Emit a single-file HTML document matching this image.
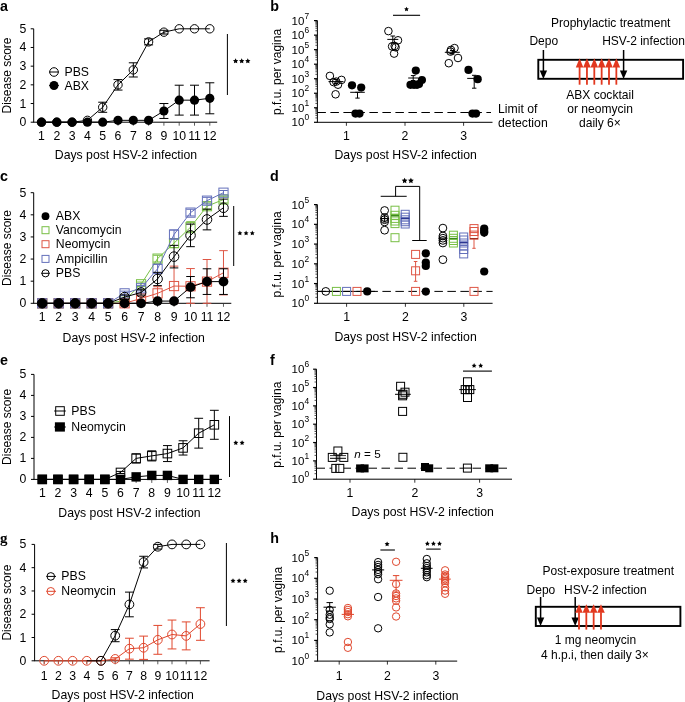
<!DOCTYPE html>
<html><head><meta charset="utf-8"><style>
html,body{margin:0;padding:0;background:#fff;overflow:hidden;}
svg{display:block;will-change:transform;}
text{font-family:"Liberation Sans", sans-serif;}
</style></head><body>
<svg width="685" height="702" viewBox="0 0 685 702">
<rect width="685" height="702" fill="#fff"/>
<text x="0.00" y="10.70" font-size="14.3" text-anchor="start" font-weight="bold" fill="#000" >a</text>
<line x1="33.70" y1="28.80" x2="33.70" y2="122.20" stroke="#000" stroke-width="1" />
<line x1="33.20" y1="122.20" x2="217.20" y2="122.20" stroke="#000" stroke-width="1" />
<line x1="30.70" y1="122.20" x2="33.70" y2="122.20" stroke="#000" stroke-width="1" />
<text x="26.30" y="126.20" font-size="12.25" text-anchor="end" font-weight="normal" fill="#000" >0</text>
<line x1="30.70" y1="103.52" x2="33.70" y2="103.52" stroke="#000" stroke-width="1" />
<text x="26.30" y="107.52" font-size="12.25" text-anchor="end" font-weight="normal" fill="#000" >1</text>
<line x1="30.70" y1="84.84" x2="33.70" y2="84.84" stroke="#000" stroke-width="1" />
<text x="26.30" y="88.84" font-size="12.25" text-anchor="end" font-weight="normal" fill="#000" >2</text>
<line x1="30.70" y1="66.16" x2="33.70" y2="66.16" stroke="#000" stroke-width="1" />
<text x="26.30" y="70.16" font-size="12.25" text-anchor="end" font-weight="normal" fill="#000" >3</text>
<line x1="30.70" y1="47.48" x2="33.70" y2="47.48" stroke="#000" stroke-width="1" />
<text x="26.30" y="51.48" font-size="12.25" text-anchor="end" font-weight="normal" fill="#000" >4</text>
<line x1="30.70" y1="28.80" x2="33.70" y2="28.80" stroke="#000" stroke-width="1" />
<text x="26.30" y="32.80" font-size="12.25" text-anchor="end" font-weight="normal" fill="#000" >5</text>
<line x1="41.50" y1="122.20" x2="41.50" y2="125.70" stroke="#333" stroke-width="0.8" />
<text x="41.50" y="140.20" font-size="12.25" text-anchor="middle" font-weight="normal" fill="#000" >1</text>
<line x1="56.80" y1="122.20" x2="56.80" y2="125.70" stroke="#333" stroke-width="0.8" />
<text x="56.80" y="140.20" font-size="12.25" text-anchor="middle" font-weight="normal" fill="#000" >2</text>
<line x1="72.10" y1="122.20" x2="72.10" y2="125.70" stroke="#333" stroke-width="0.8" />
<text x="72.10" y="140.20" font-size="12.25" text-anchor="middle" font-weight="normal" fill="#000" >3</text>
<line x1="87.40" y1="122.20" x2="87.40" y2="125.70" stroke="#333" stroke-width="0.8" />
<text x="87.40" y="140.20" font-size="12.25" text-anchor="middle" font-weight="normal" fill="#000" >4</text>
<line x1="102.70" y1="122.20" x2="102.70" y2="125.70" stroke="#333" stroke-width="0.8" />
<text x="102.70" y="140.20" font-size="12.25" text-anchor="middle" font-weight="normal" fill="#000" >5</text>
<line x1="118.00" y1="122.20" x2="118.00" y2="125.70" stroke="#333" stroke-width="0.8" />
<text x="118.00" y="140.20" font-size="12.25" text-anchor="middle" font-weight="normal" fill="#000" >6</text>
<line x1="133.30" y1="122.20" x2="133.30" y2="125.70" stroke="#333" stroke-width="0.8" />
<text x="133.30" y="140.20" font-size="12.25" text-anchor="middle" font-weight="normal" fill="#000" >7</text>
<line x1="148.60" y1="122.20" x2="148.60" y2="125.70" stroke="#333" stroke-width="0.8" />
<text x="148.60" y="140.20" font-size="12.25" text-anchor="middle" font-weight="normal" fill="#000" >8</text>
<line x1="163.90" y1="122.20" x2="163.90" y2="125.70" stroke="#333" stroke-width="0.8" />
<text x="163.90" y="140.20" font-size="12.25" text-anchor="middle" font-weight="normal" fill="#000" >9</text>
<line x1="179.20" y1="122.20" x2="179.20" y2="125.70" stroke="#333" stroke-width="0.8" />
<text x="179.20" y="140.20" font-size="12.25" text-anchor="middle" font-weight="normal" fill="#000" >10</text>
<line x1="194.50" y1="122.20" x2="194.50" y2="125.70" stroke="#333" stroke-width="0.8" />
<text x="194.50" y="140.20" font-size="12.25" text-anchor="middle" font-weight="normal" fill="#000" >11</text>
<line x1="209.80" y1="122.20" x2="209.80" y2="125.70" stroke="#333" stroke-width="0.8" />
<text x="209.80" y="140.20" font-size="12.25" text-anchor="middle" font-weight="normal" fill="#000" >12</text>
<text x="54.80" y="159.20" font-size="12.25" text-anchor="start" font-weight="normal" fill="#000" >Days post HSV-2 infection</text>
<text x="0" y="0" font-size="12.0" text-anchor="middle" transform="translate(10.70,75.50) rotate(-90)">Disease score</text>
<line x1="102.70" y1="112.30" x2="102.70" y2="102.21" stroke="#000" stroke-width="1" />
<line x1="98.20" y1="112.30" x2="107.20" y2="112.30" stroke="#000" stroke-width="1" />
<line x1="98.20" y1="102.21" x2="107.20" y2="102.21" stroke="#000" stroke-width="1" />
<line x1="118.00" y1="90.07" x2="118.00" y2="79.61" stroke="#000" stroke-width="1" />
<line x1="113.50" y1="90.07" x2="122.50" y2="90.07" stroke="#000" stroke-width="1" />
<line x1="113.50" y1="79.61" x2="122.50" y2="79.61" stroke="#000" stroke-width="1" />
<line x1="133.30" y1="76.99" x2="133.30" y2="62.80" stroke="#000" stroke-width="1" />
<line x1="128.80" y1="76.99" x2="137.80" y2="76.99" stroke="#000" stroke-width="1" />
<line x1="128.80" y1="62.80" x2="137.80" y2="62.80" stroke="#000" stroke-width="1" />
<line x1="148.60" y1="44.86" x2="148.60" y2="38.89" stroke="#000" stroke-width="1" />
<line x1="144.10" y1="44.86" x2="153.10" y2="44.86" stroke="#000" stroke-width="1" />
<line x1="144.10" y1="38.89" x2="153.10" y2="38.89" stroke="#000" stroke-width="1" />
<line x1="163.90" y1="34.03" x2="163.90" y2="30.29" stroke="#000" stroke-width="1" />
<line x1="159.40" y1="34.03" x2="168.40" y2="34.03" stroke="#000" stroke-width="1" />
<line x1="159.40" y1="30.29" x2="168.40" y2="30.29" stroke="#000" stroke-width="1" />
<polyline points="41.50,122.20 56.80,122.20 72.10,122.20 87.40,120.33 102.70,107.26 118.00,84.84 133.30,69.90 148.60,41.88 163.90,32.16 179.20,28.80 194.50,28.80 209.80,28.80" fill="none" stroke="#000" stroke-width="1" stroke-linejoin="round"/>
<circle cx="41.50" cy="122.20" r="4.2" fill="none" stroke="#000" stroke-width="1"/>
<circle cx="56.80" cy="122.20" r="4.2" fill="none" stroke="#000" stroke-width="1"/>
<circle cx="72.10" cy="122.20" r="4.2" fill="none" stroke="#000" stroke-width="1"/>
<circle cx="87.40" cy="120.33" r="4.2" fill="none" stroke="#000" stroke-width="1"/>
<circle cx="102.70" cy="107.26" r="4.2" fill="none" stroke="#000" stroke-width="1"/>
<circle cx="118.00" cy="84.84" r="4.2" fill="none" stroke="#000" stroke-width="1"/>
<circle cx="133.30" cy="69.90" r="4.2" fill="none" stroke="#000" stroke-width="1"/>
<circle cx="148.60" cy="41.88" r="4.2" fill="none" stroke="#000" stroke-width="1"/>
<circle cx="163.90" cy="32.16" r="4.2" fill="none" stroke="#000" stroke-width="1"/>
<circle cx="179.20" cy="28.80" r="4.2" fill="none" stroke="#000" stroke-width="1"/>
<circle cx="194.50" cy="28.80" r="4.2" fill="none" stroke="#000" stroke-width="1"/>
<circle cx="209.80" cy="28.80" r="4.2" fill="none" stroke="#000" stroke-width="1"/>
<line x1="163.90" y1="118.46" x2="163.90" y2="103.52" stroke="#000" stroke-width="1" />
<line x1="159.40" y1="118.46" x2="168.40" y2="118.46" stroke="#000" stroke-width="1" />
<line x1="159.40" y1="103.52" x2="168.40" y2="103.52" stroke="#000" stroke-width="1" />
<line x1="179.20" y1="115.10" x2="179.20" y2="85.21" stroke="#000" stroke-width="1" />
<line x1="174.70" y1="115.10" x2="183.70" y2="115.10" stroke="#000" stroke-width="1" />
<line x1="174.70" y1="85.21" x2="183.70" y2="85.21" stroke="#000" stroke-width="1" />
<line x1="194.50" y1="115.10" x2="194.50" y2="85.21" stroke="#000" stroke-width="1" />
<line x1="190.00" y1="115.10" x2="199.00" y2="115.10" stroke="#000" stroke-width="1" />
<line x1="190.00" y1="85.21" x2="199.00" y2="85.21" stroke="#000" stroke-width="1" />
<line x1="209.80" y1="113.79" x2="209.80" y2="82.79" stroke="#000" stroke-width="1" />
<line x1="205.30" y1="113.79" x2="214.30" y2="113.79" stroke="#000" stroke-width="1" />
<line x1="205.30" y1="82.79" x2="214.30" y2="82.79" stroke="#000" stroke-width="1" />
<polyline points="41.50,122.20 56.80,122.20 72.10,122.20 87.40,122.20 102.70,122.20 118.00,120.33 133.30,120.33 148.60,120.33 163.90,110.99 179.20,100.16 194.50,100.16 209.80,98.29" fill="none" stroke="#000" stroke-width="1" stroke-linejoin="round"/>
<circle cx="41.50" cy="122.20" r="4.6" fill="#000" stroke="#000" stroke-width="0"/>
<circle cx="56.80" cy="122.20" r="4.6" fill="#000" stroke="#000" stroke-width="0"/>
<circle cx="72.10" cy="122.20" r="4.6" fill="#000" stroke="#000" stroke-width="0"/>
<circle cx="87.40" cy="122.20" r="4.6" fill="#000" stroke="#000" stroke-width="0"/>
<circle cx="102.70" cy="122.20" r="4.6" fill="#000" stroke="#000" stroke-width="0"/>
<circle cx="118.00" cy="120.33" r="4.6" fill="#000" stroke="#000" stroke-width="0"/>
<circle cx="133.30" cy="120.33" r="4.6" fill="#000" stroke="#000" stroke-width="0"/>
<circle cx="148.60" cy="120.33" r="4.6" fill="#000" stroke="#000" stroke-width="0"/>
<circle cx="163.90" cy="110.99" r="4.6" fill="#000" stroke="#000" stroke-width="0"/>
<circle cx="179.20" cy="100.16" r="4.6" fill="#000" stroke="#000" stroke-width="0"/>
<circle cx="194.50" cy="100.16" r="4.6" fill="#000" stroke="#000" stroke-width="0"/>
<circle cx="209.80" cy="98.29" r="4.6" fill="#000" stroke="#000" stroke-width="0"/>
<circle cx="54.00" cy="72.00" r="4.3" fill="none" stroke="#000" stroke-width="1"/>
<line x1="49.20" y1="72.00" x2="58.80" y2="72.00" stroke="#000" stroke-width="1" />
<text x="64.50" y="76.30" font-size="12.25" text-anchor="start" font-weight="normal" fill="#000" >PBS</text>
<circle cx="54.00" cy="85.50" r="4.5" fill="#000" stroke="#000" stroke-width="0"/>
<line x1="49.20" y1="85.50" x2="58.80" y2="85.50" stroke="#000" stroke-width="1" />
<text x="64.50" y="89.80" font-size="12.25" text-anchor="start" font-weight="normal" fill="#000" >ABX</text>
<line x1="227.40" y1="34.00" x2="227.40" y2="95.00" stroke="#000" stroke-width="1" />
<polygon points="235.60,58.30 236.42,59.97 238.26,60.23 236.93,61.53 237.25,63.37 235.60,62.50 233.95,63.37 234.27,61.53 232.94,60.23 234.78,59.97" fill="#000"/>
<polygon points="241.70,58.30 242.52,59.97 244.36,60.23 243.03,61.53 243.35,63.37 241.70,62.50 240.05,63.37 240.37,61.53 239.04,60.23 240.88,59.97" fill="#000"/>
<polygon points="247.80,58.30 248.62,59.97 250.46,60.23 249.13,61.53 249.45,63.37 247.80,62.50 246.15,63.37 246.47,61.53 245.14,60.23 246.98,59.97" fill="#000"/>
<text x="270.20" y="10.50" font-size="14.3" text-anchor="start" font-weight="bold" fill="#000" >b</text>
<line x1="317.40" y1="20.60" x2="317.40" y2="122.30" stroke="#000" stroke-width="1" />
<line x1="316.90" y1="122.30" x2="492.50" y2="122.30" stroke="#000" stroke-width="1" />
<line x1="314.00" y1="122.30" x2="317.40" y2="122.30" stroke="#000" stroke-width="1.2" />
<text x="304.30" y="126.30" font-size="11.5" text-anchor="end" font-weight="normal" fill="#000" >10</text>
<text x="304.40" y="120.30" font-size="8.4" text-anchor="start" font-weight="normal" fill="#000" >0</text>
<line x1="315.40" y1="117.93" x2="317.40" y2="117.93" stroke="#222" stroke-width="0.8" />
<line x1="315.40" y1="115.37" x2="317.40" y2="115.37" stroke="#222" stroke-width="0.8" />
<line x1="315.40" y1="113.55" x2="317.40" y2="113.55" stroke="#222" stroke-width="0.8" />
<line x1="315.40" y1="112.14" x2="317.40" y2="112.14" stroke="#222" stroke-width="0.8" />
<line x1="315.40" y1="110.99" x2="317.40" y2="110.99" stroke="#222" stroke-width="0.8" />
<line x1="315.40" y1="110.02" x2="317.40" y2="110.02" stroke="#222" stroke-width="0.8" />
<line x1="315.40" y1="109.18" x2="317.40" y2="109.18" stroke="#222" stroke-width="0.8" />
<line x1="315.40" y1="108.44" x2="317.40" y2="108.44" stroke="#222" stroke-width="0.8" />
<line x1="314.00" y1="107.77" x2="317.40" y2="107.77" stroke="#000" stroke-width="1.2" />
<text x="304.30" y="111.77" font-size="11.5" text-anchor="end" font-weight="normal" fill="#000" >10</text>
<text x="304.40" y="105.77" font-size="8.4" text-anchor="start" font-weight="normal" fill="#000" >1</text>
<line x1="315.40" y1="103.40" x2="317.40" y2="103.40" stroke="#222" stroke-width="0.8" />
<line x1="315.40" y1="100.84" x2="317.40" y2="100.84" stroke="#222" stroke-width="0.8" />
<line x1="315.40" y1="99.02" x2="317.40" y2="99.02" stroke="#222" stroke-width="0.8" />
<line x1="315.40" y1="97.62" x2="317.40" y2="97.62" stroke="#222" stroke-width="0.8" />
<line x1="315.40" y1="96.47" x2="317.40" y2="96.47" stroke="#222" stroke-width="0.8" />
<line x1="315.40" y1="95.49" x2="317.40" y2="95.49" stroke="#222" stroke-width="0.8" />
<line x1="315.40" y1="94.65" x2="317.40" y2="94.65" stroke="#222" stroke-width="0.8" />
<line x1="315.40" y1="93.91" x2="317.40" y2="93.91" stroke="#222" stroke-width="0.8" />
<line x1="314.00" y1="93.24" x2="317.40" y2="93.24" stroke="#000" stroke-width="1.2" />
<text x="304.30" y="97.24" font-size="11.5" text-anchor="end" font-weight="normal" fill="#000" >10</text>
<text x="304.40" y="91.24" font-size="8.4" text-anchor="start" font-weight="normal" fill="#000" >2</text>
<line x1="315.40" y1="88.87" x2="317.40" y2="88.87" stroke="#222" stroke-width="0.8" />
<line x1="315.40" y1="86.31" x2="317.40" y2="86.31" stroke="#222" stroke-width="0.8" />
<line x1="315.40" y1="84.50" x2="317.40" y2="84.50" stroke="#222" stroke-width="0.8" />
<line x1="315.40" y1="83.09" x2="317.40" y2="83.09" stroke="#222" stroke-width="0.8" />
<line x1="315.40" y1="81.94" x2="317.40" y2="81.94" stroke="#222" stroke-width="0.8" />
<line x1="315.40" y1="80.96" x2="317.40" y2="80.96" stroke="#222" stroke-width="0.8" />
<line x1="315.40" y1="80.12" x2="317.40" y2="80.12" stroke="#222" stroke-width="0.8" />
<line x1="315.40" y1="79.38" x2="317.40" y2="79.38" stroke="#222" stroke-width="0.8" />
<line x1="314.00" y1="78.71" x2="317.40" y2="78.71" stroke="#000" stroke-width="1.2" />
<text x="304.30" y="82.71" font-size="11.5" text-anchor="end" font-weight="normal" fill="#000" >10</text>
<text x="304.40" y="76.71" font-size="8.4" text-anchor="start" font-weight="normal" fill="#000" >3</text>
<line x1="315.40" y1="74.34" x2="317.40" y2="74.34" stroke="#222" stroke-width="0.8" />
<line x1="315.40" y1="71.78" x2="317.40" y2="71.78" stroke="#222" stroke-width="0.8" />
<line x1="315.40" y1="69.97" x2="317.40" y2="69.97" stroke="#222" stroke-width="0.8" />
<line x1="315.40" y1="68.56" x2="317.40" y2="68.56" stroke="#222" stroke-width="0.8" />
<line x1="315.40" y1="67.41" x2="317.40" y2="67.41" stroke="#222" stroke-width="0.8" />
<line x1="315.40" y1="66.44" x2="317.40" y2="66.44" stroke="#222" stroke-width="0.8" />
<line x1="315.40" y1="65.59" x2="317.40" y2="65.59" stroke="#222" stroke-width="0.8" />
<line x1="315.40" y1="64.85" x2="317.40" y2="64.85" stroke="#222" stroke-width="0.8" />
<line x1="314.00" y1="64.19" x2="317.40" y2="64.19" stroke="#000" stroke-width="1.2" />
<text x="304.30" y="68.19" font-size="11.5" text-anchor="end" font-weight="normal" fill="#000" >10</text>
<text x="304.40" y="62.19" font-size="8.4" text-anchor="start" font-weight="normal" fill="#000" >4</text>
<line x1="315.40" y1="59.81" x2="317.40" y2="59.81" stroke="#222" stroke-width="0.8" />
<line x1="315.40" y1="57.25" x2="317.40" y2="57.25" stroke="#222" stroke-width="0.8" />
<line x1="315.40" y1="55.44" x2="317.40" y2="55.44" stroke="#222" stroke-width="0.8" />
<line x1="315.40" y1="54.03" x2="317.40" y2="54.03" stroke="#222" stroke-width="0.8" />
<line x1="315.40" y1="52.88" x2="317.40" y2="52.88" stroke="#222" stroke-width="0.8" />
<line x1="315.40" y1="51.91" x2="317.40" y2="51.91" stroke="#222" stroke-width="0.8" />
<line x1="315.40" y1="51.07" x2="317.40" y2="51.07" stroke="#222" stroke-width="0.8" />
<line x1="315.40" y1="50.32" x2="317.40" y2="50.32" stroke="#222" stroke-width="0.8" />
<line x1="314.00" y1="49.66" x2="317.40" y2="49.66" stroke="#000" stroke-width="1.2" />
<text x="304.30" y="53.66" font-size="11.5" text-anchor="end" font-weight="normal" fill="#000" >10</text>
<text x="304.40" y="47.66" font-size="8.4" text-anchor="start" font-weight="normal" fill="#000" >5</text>
<line x1="315.40" y1="45.28" x2="317.40" y2="45.28" stroke="#222" stroke-width="0.8" />
<line x1="315.40" y1="42.73" x2="317.40" y2="42.73" stroke="#222" stroke-width="0.8" />
<line x1="315.40" y1="40.91" x2="317.40" y2="40.91" stroke="#222" stroke-width="0.8" />
<line x1="315.40" y1="39.50" x2="317.40" y2="39.50" stroke="#222" stroke-width="0.8" />
<line x1="315.40" y1="38.35" x2="317.40" y2="38.35" stroke="#222" stroke-width="0.8" />
<line x1="315.40" y1="37.38" x2="317.40" y2="37.38" stroke="#222" stroke-width="0.8" />
<line x1="315.40" y1="36.54" x2="317.40" y2="36.54" stroke="#222" stroke-width="0.8" />
<line x1="315.40" y1="35.79" x2="317.40" y2="35.79" stroke="#222" stroke-width="0.8" />
<line x1="314.00" y1="35.13" x2="317.40" y2="35.13" stroke="#000" stroke-width="1.2" />
<text x="304.30" y="39.13" font-size="11.5" text-anchor="end" font-weight="normal" fill="#000" >10</text>
<text x="304.40" y="33.13" font-size="8.4" text-anchor="start" font-weight="normal" fill="#000" >6</text>
<line x1="315.40" y1="30.76" x2="317.40" y2="30.76" stroke="#222" stroke-width="0.8" />
<line x1="315.40" y1="28.20" x2="317.40" y2="28.20" stroke="#222" stroke-width="0.8" />
<line x1="315.40" y1="26.38" x2="317.40" y2="26.38" stroke="#222" stroke-width="0.8" />
<line x1="315.40" y1="24.97" x2="317.40" y2="24.97" stroke="#222" stroke-width="0.8" />
<line x1="315.40" y1="23.82" x2="317.40" y2="23.82" stroke="#222" stroke-width="0.8" />
<line x1="315.40" y1="22.85" x2="317.40" y2="22.85" stroke="#222" stroke-width="0.8" />
<line x1="315.40" y1="22.01" x2="317.40" y2="22.01" stroke="#222" stroke-width="0.8" />
<line x1="315.40" y1="21.26" x2="317.40" y2="21.26" stroke="#222" stroke-width="0.8" />
<line x1="314.00" y1="20.60" x2="317.40" y2="20.60" stroke="#000" stroke-width="1.2" />
<text x="304.30" y="24.60" font-size="11.5" text-anchor="end" font-weight="normal" fill="#000" >10</text>
<text x="304.40" y="18.60" font-size="8.4" text-anchor="start" font-weight="normal" fill="#000" >7</text>
<line x1="346.40" y1="122.30" x2="346.40" y2="125.80" stroke="#000" stroke-width="0.8" />
<text x="346.40" y="140.20" font-size="12.25" text-anchor="middle" font-weight="normal" fill="#000" >1</text>
<line x1="405.00" y1="122.30" x2="405.00" y2="125.80" stroke="#000" stroke-width="0.8" />
<text x="405.00" y="140.20" font-size="12.25" text-anchor="middle" font-weight="normal" fill="#000" >2</text>
<line x1="463.60" y1="122.30" x2="463.60" y2="125.80" stroke="#000" stroke-width="0.8" />
<text x="463.60" y="140.20" font-size="12.25" text-anchor="middle" font-weight="normal" fill="#000" >3</text>
<text x="334.50" y="159.20" font-size="12.25" text-anchor="start" font-weight="normal" fill="#000" >Days post HSV-2 infection</text>
<text x="0" y="0" font-size="12.0" text-anchor="middle" transform="translate(281.30,71.95) rotate(-90)">p.f.u. per vagina</text>
<line x1="317.40" y1="112.50" x2="491.00" y2="112.50" stroke="#000" stroke-width="1" stroke-dasharray="8.5 4.5"/>
<circle cx="329.90" cy="75.90" r="3.8" fill="none" stroke="#000" stroke-width="1"/>
<circle cx="341.50" cy="79.90" r="3.8" fill="none" stroke="#000" stroke-width="1"/>
<circle cx="333.60" cy="82.10" r="3.8" fill="none" stroke="#000" stroke-width="1"/>
<circle cx="336.20" cy="81.60" r="3.8" fill="none" stroke="#000" stroke-width="1"/>
<circle cx="338.00" cy="84.70" r="3.8" fill="none" stroke="#000" stroke-width="1"/>
<circle cx="335.60" cy="94.30" r="3.8" fill="none" stroke="#000" stroke-width="1"/>
<line x1="328.50" y1="81.60" x2="343.50" y2="81.60" stroke="#000" stroke-width="1" />
<line x1="336.00" y1="79.50" x2="336.00" y2="83.50" stroke="#000" stroke-width="1" />
<line x1="333.70" y1="79.50" x2="338.30" y2="79.50" stroke="#000" stroke-width="1" />
<line x1="333.70" y1="83.50" x2="338.30" y2="83.50" stroke="#000" stroke-width="1" />
<circle cx="352.00" cy="85.30" r="4.1" fill="#000" stroke="#000" stroke-width="0"/>
<circle cx="361.20" cy="87.60" r="4.1" fill="#000" stroke="#000" stroke-width="0"/>
<circle cx="355.50" cy="113.60" r="4.1" fill="#000" stroke="#000" stroke-width="0"/>
<circle cx="359.50" cy="113.60" r="4.1" fill="#000" stroke="#000" stroke-width="0"/>
<line x1="350.20" y1="92.30" x2="364.80" y2="92.30" stroke="#000" stroke-width="1" />
<line x1="357.50" y1="92.30" x2="357.50" y2="98.10" stroke="#000" stroke-width="1" />
<line x1="355.30" y1="92.30" x2="359.70" y2="92.30" stroke="#000" stroke-width="1" />
<line x1="355.30" y1="98.10" x2="359.70" y2="98.10" stroke="#000" stroke-width="1" />
<circle cx="388.40" cy="31.10" r="3.8" fill="none" stroke="#000" stroke-width="1"/>
<circle cx="398.00" cy="40.30" r="3.8" fill="none" stroke="#000" stroke-width="1"/>
<circle cx="392.10" cy="46.40" r="3.8" fill="none" stroke="#000" stroke-width="1"/>
<circle cx="395.60" cy="47.30" r="3.8" fill="none" stroke="#000" stroke-width="1"/>
<circle cx="394.10" cy="53.60" r="3.8" fill="none" stroke="#000" stroke-width="1"/>
<circle cx="394.70" cy="46.00" r="3.8" fill="none" stroke="#000" stroke-width="1"/>
<line x1="387.30" y1="39.40" x2="398.30" y2="39.40" stroke="#000" stroke-width="1" />
<line x1="392.80" y1="36.00" x2="392.80" y2="43.00" stroke="#000" stroke-width="1" />
<line x1="390.50" y1="36.00" x2="395.10" y2="36.00" stroke="#000" stroke-width="1" />
<line x1="390.50" y1="43.00" x2="395.10" y2="43.00" stroke="#000" stroke-width="1" />
<circle cx="415.80" cy="70.60" r="4.1" fill="#000" stroke="#000" stroke-width="0"/>
<circle cx="421.90" cy="80.00" r="4.1" fill="#000" stroke="#000" stroke-width="0"/>
<circle cx="410.50" cy="84.80" r="4.1" fill="#000" stroke="#000" stroke-width="0"/>
<circle cx="414.00" cy="84.80" r="4.1" fill="#000" stroke="#000" stroke-width="0"/>
<circle cx="417.00" cy="84.80" r="4.1" fill="#000" stroke="#000" stroke-width="0"/>
<circle cx="419.00" cy="84.00" r="4.1" fill="#000" stroke="#000" stroke-width="0"/>
<line x1="408.20" y1="78.00" x2="418.20" y2="78.00" stroke="#000" stroke-width="1" />
<line x1="413.20" y1="75.60" x2="413.20" y2="80.50" stroke="#000" stroke-width="1" />
<line x1="410.90" y1="75.60" x2="415.50" y2="75.60" stroke="#000" stroke-width="1" />
<line x1="410.90" y1="80.50" x2="415.50" y2="80.50" stroke="#000" stroke-width="1" />
<line x1="393.00" y1="15.30" x2="420.10" y2="15.30" stroke="#000" stroke-width="1.1" />
<polygon points="406.50,6.70 407.23,8.19 408.88,8.43 407.69,9.59 407.97,11.22 406.50,10.45 405.03,11.22 405.31,9.59 404.12,8.43 405.77,8.19" fill="#000"/>
<circle cx="454.50" cy="48.10" r="3.8" fill="none" stroke="#000" stroke-width="1"/>
<circle cx="451.00" cy="49.90" r="3.8" fill="none" stroke="#000" stroke-width="1"/>
<circle cx="450.50" cy="51.60" r="3.8" fill="none" stroke="#000" stroke-width="1"/>
<circle cx="458.00" cy="58.00" r="3.8" fill="none" stroke="#000" stroke-width="1"/>
<circle cx="448.80" cy="63.20" r="3.8" fill="none" stroke="#000" stroke-width="1"/>
<line x1="444.80" y1="52.30" x2="459.80" y2="52.30" stroke="#000" stroke-width="1" />
<line x1="452.30" y1="50.50" x2="452.30" y2="54.00" stroke="#000" stroke-width="1" />
<line x1="450.00" y1="50.50" x2="454.60" y2="50.50" stroke="#000" stroke-width="1" />
<line x1="450.00" y1="54.00" x2="454.60" y2="54.00" stroke="#000" stroke-width="1" />
<circle cx="468.50" cy="69.90" r="4.1" fill="#000" stroke="#000" stroke-width="0"/>
<circle cx="477.70" cy="79.20" r="4.1" fill="#000" stroke="#000" stroke-width="0"/>
<circle cx="472.50" cy="113.60" r="4.1" fill="#000" stroke="#000" stroke-width="0"/>
<circle cx="476.00" cy="113.60" r="4.1" fill="#000" stroke="#000" stroke-width="0"/>
<line x1="467.20" y1="78.40" x2="475.80" y2="78.40" stroke="#000" stroke-width="1" />
<line x1="474.20" y1="75.30" x2="474.20" y2="88.20" stroke="#000" stroke-width="1" />
<line x1="472.00" y1="75.30" x2="476.40" y2="75.30" stroke="#000" stroke-width="1" />
<line x1="472.00" y1="88.20" x2="476.40" y2="88.20" stroke="#000" stroke-width="1" />
<text x="498.00" y="113.30" font-size="12.25" text-anchor="start" font-weight="normal" fill="#000" >Limit of</text>
<text x="498.00" y="126.80" font-size="12.25" text-anchor="start" font-weight="normal" fill="#000" >detection</text>
<text x="551.00" y="26.50" font-size="12.0" text-anchor="start" font-weight="normal" fill="#000" >Prophylactic treatment</text>
<text x="529.40" y="45.40" font-size="12.0" text-anchor="start" font-weight="normal" fill="#000" >Depo</text>
<text x="602.20" y="45.20" font-size="12.0" text-anchor="start" font-weight="normal" fill="#000" >HSV-2 infection</text>
<rect x="538.3" y="59.8" width="144.8" height="19" fill="none" stroke="#000" stroke-width="1.9"/>
<line x1="543.40" y1="50.00" x2="543.40" y2="71.10" stroke="#000" stroke-width="1.5" />
<polygon points="539.70,70.60 547.10,70.60 543.40,79.00" fill="#000"/>
<line x1="623.60" y1="50.00" x2="623.60" y2="71.10" stroke="#000" stroke-width="1.5" />
<polygon points="619.90,70.60 627.30,70.60 623.60,79.00" fill="#000"/>
<line x1="579.60" y1="84.70" x2="579.60" y2="67.00" stroke="#e2381f" stroke-width="1.8" />
<polygon points="575.80,67.50 583.40,67.50 579.60,58.30" fill="#e2381f"/>
<line x1="586.95" y1="84.70" x2="586.95" y2="67.00" stroke="#e2381f" stroke-width="1.8" />
<polygon points="583.15,67.50 590.75,67.50 586.95,58.30" fill="#e2381f"/>
<line x1="594.30" y1="84.70" x2="594.30" y2="67.00" stroke="#e2381f" stroke-width="1.8" />
<polygon points="590.50,67.50 598.10,67.50 594.30,58.30" fill="#e2381f"/>
<line x1="601.65" y1="84.70" x2="601.65" y2="67.00" stroke="#e2381f" stroke-width="1.8" />
<polygon points="597.85,67.50 605.45,67.50 601.65,58.30" fill="#e2381f"/>
<line x1="609.00" y1="84.70" x2="609.00" y2="67.00" stroke="#e2381f" stroke-width="1.8" />
<polygon points="605.20,67.50 612.80,67.50 609.00,58.30" fill="#e2381f"/>
<line x1="616.35" y1="84.70" x2="616.35" y2="67.00" stroke="#e2381f" stroke-width="1.8" />
<polygon points="612.55,67.50 620.15,67.50 616.35,58.30" fill="#e2381f"/>
<text x="566.20" y="98.90" font-size="12.05" text-anchor="start" font-weight="normal" fill="#000" >ABX cocktail</text>
<text x="567.30" y="113.10" font-size="12.05" text-anchor="start" font-weight="normal" fill="#000" >or neomycin</text>
<text x="579.00" y="127.20" font-size="12.05" text-anchor="start" font-weight="normal" fill="#000" >daily 6×</text>
<text x="0.00" y="181.20" font-size="14.3" text-anchor="start" font-weight="bold" fill="#000" >c</text>
<line x1="33.70" y1="192.70" x2="33.70" y2="303.30" stroke="#000" stroke-width="1" />
<line x1="33.20" y1="303.30" x2="231.30" y2="303.30" stroke="#000" stroke-width="1" />
<line x1="30.70" y1="303.30" x2="33.70" y2="303.30" stroke="#000" stroke-width="1" />
<text x="26.30" y="307.30" font-size="12.25" text-anchor="end" font-weight="normal" fill="#000" >0</text>
<line x1="30.70" y1="281.18" x2="33.70" y2="281.18" stroke="#000" stroke-width="1" />
<text x="26.30" y="285.18" font-size="12.25" text-anchor="end" font-weight="normal" fill="#000" >1</text>
<line x1="30.70" y1="259.06" x2="33.70" y2="259.06" stroke="#000" stroke-width="1" />
<text x="26.30" y="263.06" font-size="12.25" text-anchor="end" font-weight="normal" fill="#000" >2</text>
<line x1="30.70" y1="236.94" x2="33.70" y2="236.94" stroke="#000" stroke-width="1" />
<text x="26.30" y="240.94" font-size="12.25" text-anchor="end" font-weight="normal" fill="#000" >3</text>
<line x1="30.70" y1="214.82" x2="33.70" y2="214.82" stroke="#000" stroke-width="1" />
<text x="26.30" y="218.82" font-size="12.25" text-anchor="end" font-weight="normal" fill="#000" >4</text>
<line x1="30.70" y1="192.70" x2="33.70" y2="192.70" stroke="#000" stroke-width="1" />
<text x="26.30" y="196.70" font-size="12.25" text-anchor="end" font-weight="normal" fill="#000" >5</text>
<line x1="42.20" y1="303.30" x2="42.20" y2="306.80" stroke="#333" stroke-width="0.8" />
<text x="42.20" y="321.30" font-size="12.25" text-anchor="middle" font-weight="normal" fill="#000" >1</text>
<line x1="58.68" y1="303.30" x2="58.68" y2="306.80" stroke="#333" stroke-width="0.8" />
<text x="58.68" y="321.30" font-size="12.25" text-anchor="middle" font-weight="normal" fill="#000" >2</text>
<line x1="75.16" y1="303.30" x2="75.16" y2="306.80" stroke="#333" stroke-width="0.8" />
<text x="75.16" y="321.30" font-size="12.25" text-anchor="middle" font-weight="normal" fill="#000" >3</text>
<line x1="91.64" y1="303.30" x2="91.64" y2="306.80" stroke="#333" stroke-width="0.8" />
<text x="91.64" y="321.30" font-size="12.25" text-anchor="middle" font-weight="normal" fill="#000" >4</text>
<line x1="108.12" y1="303.30" x2="108.12" y2="306.80" stroke="#333" stroke-width="0.8" />
<text x="108.12" y="321.30" font-size="12.25" text-anchor="middle" font-weight="normal" fill="#000" >5</text>
<line x1="124.60" y1="303.30" x2="124.60" y2="306.80" stroke="#333" stroke-width="0.8" />
<text x="124.60" y="321.30" font-size="12.25" text-anchor="middle" font-weight="normal" fill="#000" >6</text>
<line x1="141.08" y1="303.30" x2="141.08" y2="306.80" stroke="#333" stroke-width="0.8" />
<text x="141.08" y="321.30" font-size="12.25" text-anchor="middle" font-weight="normal" fill="#000" >7</text>
<line x1="157.56" y1="303.30" x2="157.56" y2="306.80" stroke="#333" stroke-width="0.8" />
<text x="157.56" y="321.30" font-size="12.25" text-anchor="middle" font-weight="normal" fill="#000" >8</text>
<line x1="174.04" y1="303.30" x2="174.04" y2="306.80" stroke="#333" stroke-width="0.8" />
<text x="174.04" y="321.30" font-size="12.25" text-anchor="middle" font-weight="normal" fill="#000" >9</text>
<line x1="190.52" y1="303.30" x2="190.52" y2="306.80" stroke="#333" stroke-width="0.8" />
<text x="190.52" y="321.30" font-size="12.25" text-anchor="middle" font-weight="normal" fill="#000" >10</text>
<line x1="207.00" y1="303.30" x2="207.00" y2="306.80" stroke="#333" stroke-width="0.8" />
<text x="207.00" y="321.30" font-size="12.25" text-anchor="middle" font-weight="normal" fill="#000" >11</text>
<line x1="223.48" y1="303.30" x2="223.48" y2="306.80" stroke="#333" stroke-width="0.8" />
<text x="223.48" y="321.30" font-size="12.25" text-anchor="middle" font-weight="normal" fill="#000" >12</text>
<text x="62.60" y="341.70" font-size="12.25" text-anchor="start" font-weight="normal" fill="#000" >Days post HSV-2 infection</text>
<text x="0" y="0" font-size="12.0" text-anchor="middle" transform="translate(10.70,248.00) rotate(-90)">Disease score</text>
<line x1="124.60" y1="301.53" x2="124.60" y2="299.32" stroke="#78bf45" stroke-width="1" />
<line x1="120.30" y1="301.53" x2="128.90" y2="301.53" stroke="#78bf45" stroke-width="1" />
<line x1="120.30" y1="299.32" x2="128.90" y2="299.32" stroke="#78bf45" stroke-width="1" />
<line x1="141.08" y1="286.49" x2="141.08" y2="282.06" stroke="#78bf45" stroke-width="1" />
<line x1="136.78" y1="286.49" x2="145.38" y2="286.49" stroke="#78bf45" stroke-width="1" />
<line x1="136.78" y1="282.06" x2="145.38" y2="282.06" stroke="#78bf45" stroke-width="1" />
<line x1="157.56" y1="261.94" x2="157.56" y2="255.30" stroke="#78bf45" stroke-width="1" />
<line x1="153.26" y1="261.94" x2="161.86" y2="261.94" stroke="#78bf45" stroke-width="1" />
<line x1="153.26" y1="255.30" x2="161.86" y2="255.30" stroke="#78bf45" stroke-width="1" />
<line x1="174.04" y1="247.56" x2="174.04" y2="238.71" stroke="#78bf45" stroke-width="1" />
<line x1="169.74" y1="247.56" x2="178.34" y2="247.56" stroke="#78bf45" stroke-width="1" />
<line x1="169.74" y1="238.71" x2="178.34" y2="238.71" stroke="#78bf45" stroke-width="1" />
<line x1="190.52" y1="232.74" x2="190.52" y2="221.68" stroke="#78bf45" stroke-width="1" />
<line x1="186.22" y1="232.74" x2="194.82" y2="232.74" stroke="#78bf45" stroke-width="1" />
<line x1="186.22" y1="221.68" x2="194.82" y2="221.68" stroke="#78bf45" stroke-width="1" />
<line x1="207.00" y1="209.51" x2="207.00" y2="202.88" stroke="#78bf45" stroke-width="1" />
<line x1="202.70" y1="209.51" x2="211.30" y2="209.51" stroke="#78bf45" stroke-width="1" />
<line x1="202.70" y1="202.88" x2="211.30" y2="202.88" stroke="#78bf45" stroke-width="1" />
<line x1="223.48" y1="202.88" x2="223.48" y2="196.24" stroke="#78bf45" stroke-width="1" />
<line x1="219.18" y1="202.88" x2="227.78" y2="202.88" stroke="#78bf45" stroke-width="1" />
<line x1="219.18" y1="196.24" x2="227.78" y2="196.24" stroke="#78bf45" stroke-width="1" />
<polyline points="42.20,303.30 58.68,303.30 75.16,303.30 91.64,303.30 108.12,303.30 124.60,300.42 141.08,284.28 157.56,258.62 174.04,243.13 190.52,227.21 207.00,206.19 223.48,199.56" fill="none" stroke="#78bf45" stroke-width="1" stroke-linejoin="round"/>
<rect x="37.60" y="298.70" width="9.2" height="9.2" fill="none" stroke="#78bf45" stroke-width="1"/>
<rect x="54.08" y="298.70" width="9.2" height="9.2" fill="none" stroke="#78bf45" stroke-width="1"/>
<rect x="70.56" y="298.70" width="9.2" height="9.2" fill="none" stroke="#78bf45" stroke-width="1"/>
<rect x="87.04" y="298.70" width="9.2" height="9.2" fill="none" stroke="#78bf45" stroke-width="1"/>
<rect x="103.52" y="298.70" width="9.2" height="9.2" fill="none" stroke="#78bf45" stroke-width="1"/>
<rect x="120.00" y="295.82" width="9.2" height="9.2" fill="none" stroke="#78bf45" stroke-width="1"/>
<rect x="136.48" y="279.68" width="9.2" height="9.2" fill="none" stroke="#78bf45" stroke-width="1"/>
<rect x="152.96" y="254.02" width="9.2" height="9.2" fill="none" stroke="#78bf45" stroke-width="1"/>
<rect x="169.44" y="238.53" width="9.2" height="9.2" fill="none" stroke="#78bf45" stroke-width="1"/>
<rect x="185.92" y="222.61" width="9.2" height="9.2" fill="none" stroke="#78bf45" stroke-width="1"/>
<rect x="202.40" y="201.59" width="9.2" height="9.2" fill="none" stroke="#78bf45" stroke-width="1"/>
<rect x="218.88" y="194.96" width="9.2" height="9.2" fill="none" stroke="#78bf45" stroke-width="1"/>
<line x1="141.08" y1="300.65" x2="141.08" y2="296.22" stroke="#de5645" stroke-width="1" />
<line x1="136.78" y1="300.65" x2="145.38" y2="300.65" stroke="#de5645" stroke-width="1" />
<line x1="136.78" y1="296.22" x2="145.38" y2="296.22" stroke="#de5645" stroke-width="1" />
<line x1="157.56" y1="299.98" x2="157.56" y2="286.71" stroke="#de5645" stroke-width="1" />
<line x1="153.26" y1="299.98" x2="161.86" y2="299.98" stroke="#de5645" stroke-width="1" />
<line x1="153.26" y1="286.71" x2="161.86" y2="286.71" stroke="#de5645" stroke-width="1" />
<line x1="174.04" y1="303.30" x2="174.04" y2="266.14" stroke="#de5645" stroke-width="1" />
<line x1="169.74" y1="303.30" x2="178.34" y2="303.30" stroke="#de5645" stroke-width="1" />
<line x1="169.74" y1="266.14" x2="178.34" y2="266.14" stroke="#de5645" stroke-width="1" />
<line x1="190.52" y1="303.30" x2="190.52" y2="268.57" stroke="#de5645" stroke-width="1" />
<line x1="186.22" y1="303.30" x2="194.82" y2="303.30" stroke="#de5645" stroke-width="1" />
<line x1="186.22" y1="268.57" x2="194.82" y2="268.57" stroke="#de5645" stroke-width="1" />
<line x1="207.00" y1="303.30" x2="207.00" y2="259.50" stroke="#de5645" stroke-width="1" />
<line x1="202.70" y1="303.30" x2="211.30" y2="303.30" stroke="#de5645" stroke-width="1" />
<line x1="202.70" y1="259.50" x2="211.30" y2="259.50" stroke="#de5645" stroke-width="1" />
<line x1="223.48" y1="294.89" x2="223.48" y2="250.65" stroke="#de5645" stroke-width="1" />
<line x1="219.18" y1="294.89" x2="227.78" y2="294.89" stroke="#de5645" stroke-width="1" />
<line x1="219.18" y1="250.65" x2="227.78" y2="250.65" stroke="#de5645" stroke-width="1" />
<polyline points="42.20,303.30 58.68,303.30 75.16,303.30 91.64,303.30 108.12,303.30 124.60,303.30 141.08,298.43 157.56,293.35 174.04,286.05 190.52,286.27 207.00,281.62 223.48,272.77" fill="none" stroke="#de5645" stroke-width="1" stroke-linejoin="round"/>
<rect x="37.60" y="298.70" width="9.2" height="9.2" fill="none" stroke="#de5645" stroke-width="1"/>
<rect x="54.08" y="298.70" width="9.2" height="9.2" fill="none" stroke="#de5645" stroke-width="1"/>
<rect x="70.56" y="298.70" width="9.2" height="9.2" fill="none" stroke="#de5645" stroke-width="1"/>
<rect x="87.04" y="298.70" width="9.2" height="9.2" fill="none" stroke="#de5645" stroke-width="1"/>
<rect x="103.52" y="298.70" width="9.2" height="9.2" fill="none" stroke="#de5645" stroke-width="1"/>
<rect x="120.00" y="298.70" width="9.2" height="9.2" fill="none" stroke="#de5645" stroke-width="1"/>
<rect x="136.48" y="293.83" width="9.2" height="9.2" fill="none" stroke="#de5645" stroke-width="1"/>
<rect x="152.96" y="288.75" width="9.2" height="9.2" fill="none" stroke="#de5645" stroke-width="1"/>
<rect x="169.44" y="281.45" width="9.2" height="9.2" fill="none" stroke="#de5645" stroke-width="1"/>
<rect x="185.92" y="281.67" width="9.2" height="9.2" fill="none" stroke="#de5645" stroke-width="1"/>
<rect x="202.40" y="277.02" width="9.2" height="9.2" fill="none" stroke="#de5645" stroke-width="1"/>
<rect x="218.88" y="268.17" width="9.2" height="9.2" fill="none" stroke="#de5645" stroke-width="1"/>
<line x1="124.60" y1="295.56" x2="124.60" y2="291.13" stroke="#6470bb" stroke-width="1" />
<line x1="120.30" y1="295.56" x2="128.90" y2="295.56" stroke="#6470bb" stroke-width="1" />
<line x1="120.30" y1="291.13" x2="128.90" y2="291.13" stroke="#6470bb" stroke-width="1" />
<line x1="141.08" y1="290.91" x2="141.08" y2="285.60" stroke="#6470bb" stroke-width="1" />
<line x1="136.78" y1="290.91" x2="145.38" y2="290.91" stroke="#6470bb" stroke-width="1" />
<line x1="136.78" y1="285.60" x2="145.38" y2="285.60" stroke="#6470bb" stroke-width="1" />
<line x1="157.56" y1="273.22" x2="157.56" y2="264.37" stroke="#6470bb" stroke-width="1" />
<line x1="153.26" y1="273.22" x2="161.86" y2="273.22" stroke="#6470bb" stroke-width="1" />
<line x1="153.26" y1="264.37" x2="161.86" y2="264.37" stroke="#6470bb" stroke-width="1" />
<line x1="174.04" y1="238.93" x2="174.04" y2="230.08" stroke="#6470bb" stroke-width="1" />
<line x1="169.74" y1="238.93" x2="178.34" y2="238.93" stroke="#6470bb" stroke-width="1" />
<line x1="169.74" y1="230.08" x2="178.34" y2="230.08" stroke="#6470bb" stroke-width="1" />
<line x1="190.52" y1="215.93" x2="190.52" y2="209.29" stroke="#6470bb" stroke-width="1" />
<line x1="186.22" y1="215.93" x2="194.82" y2="215.93" stroke="#6470bb" stroke-width="1" />
<line x1="186.22" y1="209.29" x2="194.82" y2="209.29" stroke="#6470bb" stroke-width="1" />
<line x1="207.00" y1="203.98" x2="207.00" y2="197.35" stroke="#6470bb" stroke-width="1" />
<line x1="202.70" y1="203.98" x2="211.30" y2="203.98" stroke="#6470bb" stroke-width="1" />
<line x1="202.70" y1="197.35" x2="211.30" y2="197.35" stroke="#6470bb" stroke-width="1" />
<line x1="223.48" y1="194.91" x2="223.48" y2="190.49" stroke="#6470bb" stroke-width="1" />
<line x1="219.18" y1="194.91" x2="227.78" y2="194.91" stroke="#6470bb" stroke-width="1" />
<line x1="219.18" y1="190.49" x2="227.78" y2="190.49" stroke="#6470bb" stroke-width="1" />
<polyline points="42.20,303.30 58.68,303.30 75.16,303.30 91.64,303.30 108.12,303.30 124.60,293.35 141.08,288.26 157.56,268.79 174.04,234.51 190.52,212.61 207.00,200.66 223.48,192.70" fill="none" stroke="#6470bb" stroke-width="1" stroke-linejoin="round"/>
<rect x="37.60" y="298.70" width="9.2" height="9.2" fill="none" stroke="#6470bb" stroke-width="1"/>
<rect x="54.08" y="298.70" width="9.2" height="9.2" fill="none" stroke="#6470bb" stroke-width="1"/>
<rect x="70.56" y="298.70" width="9.2" height="9.2" fill="none" stroke="#6470bb" stroke-width="1"/>
<rect x="87.04" y="298.70" width="9.2" height="9.2" fill="none" stroke="#6470bb" stroke-width="1"/>
<rect x="103.52" y="298.70" width="9.2" height="9.2" fill="none" stroke="#6470bb" stroke-width="1"/>
<rect x="120.00" y="288.75" width="9.2" height="9.2" fill="none" stroke="#6470bb" stroke-width="1"/>
<rect x="136.48" y="283.66" width="9.2" height="9.2" fill="none" stroke="#6470bb" stroke-width="1"/>
<rect x="152.96" y="264.19" width="9.2" height="9.2" fill="none" stroke="#6470bb" stroke-width="1"/>
<rect x="169.44" y="229.91" width="9.2" height="9.2" fill="none" stroke="#6470bb" stroke-width="1"/>
<rect x="185.92" y="208.01" width="9.2" height="9.2" fill="none" stroke="#6470bb" stroke-width="1"/>
<rect x="202.40" y="196.06" width="9.2" height="9.2" fill="none" stroke="#6470bb" stroke-width="1"/>
<rect x="218.88" y="188.10" width="9.2" height="9.2" fill="none" stroke="#6470bb" stroke-width="1"/>
<line x1="124.60" y1="299.32" x2="124.60" y2="294.89" stroke="#000" stroke-width="1" />
<line x1="120.30" y1="299.32" x2="128.90" y2="299.32" stroke="#000" stroke-width="1" />
<line x1="120.30" y1="294.89" x2="128.90" y2="294.89" stroke="#000" stroke-width="1" />
<line x1="141.08" y1="295.12" x2="141.08" y2="289.81" stroke="#000" stroke-width="1" />
<line x1="136.78" y1="295.12" x2="145.38" y2="295.12" stroke="#000" stroke-width="1" />
<line x1="136.78" y1="289.81" x2="145.38" y2="289.81" stroke="#000" stroke-width="1" />
<line x1="157.56" y1="285.60" x2="157.56" y2="272.33" stroke="#000" stroke-width="1" />
<line x1="153.26" y1="285.60" x2="161.86" y2="285.60" stroke="#000" stroke-width="1" />
<line x1="153.26" y1="272.33" x2="161.86" y2="272.33" stroke="#000" stroke-width="1" />
<line x1="174.04" y1="267.91" x2="174.04" y2="245.35" stroke="#000" stroke-width="1" />
<line x1="169.74" y1="267.91" x2="178.34" y2="267.91" stroke="#000" stroke-width="1" />
<line x1="169.74" y1="245.35" x2="178.34" y2="245.35" stroke="#000" stroke-width="1" />
<line x1="190.52" y1="246.67" x2="190.52" y2="224.11" stroke="#000" stroke-width="1" />
<line x1="186.22" y1="246.67" x2="194.82" y2="246.67" stroke="#000" stroke-width="1" />
<line x1="186.22" y1="224.11" x2="194.82" y2="224.11" stroke="#000" stroke-width="1" />
<line x1="207.00" y1="229.86" x2="207.00" y2="209.07" stroke="#000" stroke-width="1" />
<line x1="202.70" y1="229.86" x2="211.30" y2="229.86" stroke="#000" stroke-width="1" />
<line x1="202.70" y1="209.07" x2="211.30" y2="209.07" stroke="#000" stroke-width="1" />
<line x1="223.48" y1="216.37" x2="223.48" y2="199.11" stroke="#000" stroke-width="1" />
<line x1="219.18" y1="216.37" x2="227.78" y2="216.37" stroke="#000" stroke-width="1" />
<line x1="219.18" y1="199.11" x2="227.78" y2="199.11" stroke="#000" stroke-width="1" />
<polyline points="42.20,303.30 58.68,303.30 75.16,303.30 91.64,303.30 108.12,303.30 124.60,297.11 141.08,292.46 157.56,278.97 174.04,256.63 190.52,235.39 207.00,219.47 223.48,207.74" fill="none" stroke="#000" stroke-width="1" stroke-linejoin="round"/>
<circle cx="42.20" cy="303.30" r="4.8" fill="none" stroke="#000" stroke-width="1"/>
<circle cx="58.68" cy="303.30" r="4.8" fill="none" stroke="#000" stroke-width="1"/>
<circle cx="75.16" cy="303.30" r="4.8" fill="none" stroke="#000" stroke-width="1"/>
<circle cx="91.64" cy="303.30" r="4.8" fill="none" stroke="#000" stroke-width="1"/>
<circle cx="108.12" cy="303.30" r="4.8" fill="none" stroke="#000" stroke-width="1"/>
<circle cx="124.60" cy="297.11" r="4.8" fill="none" stroke="#000" stroke-width="1"/>
<circle cx="141.08" cy="292.46" r="4.8" fill="none" stroke="#000" stroke-width="1"/>
<circle cx="157.56" cy="278.97" r="4.8" fill="none" stroke="#000" stroke-width="1"/>
<circle cx="174.04" cy="256.63" r="4.8" fill="none" stroke="#000" stroke-width="1"/>
<circle cx="190.52" cy="235.39" r="4.8" fill="none" stroke="#000" stroke-width="1"/>
<circle cx="207.00" cy="219.47" r="4.8" fill="none" stroke="#000" stroke-width="1"/>
<circle cx="223.48" cy="207.74" r="4.8" fill="none" stroke="#000" stroke-width="1"/>
<line x1="190.52" y1="297.77" x2="190.52" y2="276.53" stroke="#000" stroke-width="1" />
<line x1="186.22" y1="297.77" x2="194.82" y2="297.77" stroke="#000" stroke-width="1" />
<line x1="186.22" y1="276.53" x2="194.82" y2="276.53" stroke="#000" stroke-width="1" />
<line x1="207.00" y1="294.45" x2="207.00" y2="268.79" stroke="#000" stroke-width="1" />
<line x1="202.70" y1="294.45" x2="211.30" y2="294.45" stroke="#000" stroke-width="1" />
<line x1="202.70" y1="268.79" x2="211.30" y2="268.79" stroke="#000" stroke-width="1" />
<line x1="223.48" y1="294.45" x2="223.48" y2="268.79" stroke="#000" stroke-width="1" />
<line x1="219.18" y1="294.45" x2="227.78" y2="294.45" stroke="#000" stroke-width="1" />
<line x1="219.18" y1="268.79" x2="227.78" y2="268.79" stroke="#000" stroke-width="1" />
<polyline points="42.20,303.30 58.68,303.30 75.16,303.30 91.64,303.30 108.12,303.30 124.60,303.30 141.08,303.30 157.56,301.09 174.04,301.09 190.52,287.15 207.00,281.62 223.48,281.62" fill="none" stroke="#000" stroke-width="1" stroke-linejoin="round"/>
<circle cx="42.20" cy="303.30" r="4.9" fill="#000" stroke="#000" stroke-width="0"/>
<circle cx="58.68" cy="303.30" r="4.9" fill="#000" stroke="#000" stroke-width="0"/>
<circle cx="75.16" cy="303.30" r="4.9" fill="#000" stroke="#000" stroke-width="0"/>
<circle cx="91.64" cy="303.30" r="4.9" fill="#000" stroke="#000" stroke-width="0"/>
<circle cx="108.12" cy="303.30" r="4.9" fill="#000" stroke="#000" stroke-width="0"/>
<circle cx="124.60" cy="303.30" r="4.9" fill="#000" stroke="#000" stroke-width="0"/>
<circle cx="141.08" cy="303.30" r="4.9" fill="#000" stroke="#000" stroke-width="0"/>
<circle cx="157.56" cy="301.09" r="4.9" fill="#000" stroke="#000" stroke-width="0"/>
<circle cx="174.04" cy="301.09" r="4.9" fill="#000" stroke="#000" stroke-width="0"/>
<circle cx="190.52" cy="287.15" r="4.9" fill="#000" stroke="#000" stroke-width="0"/>
<circle cx="207.00" cy="281.62" r="4.9" fill="#000" stroke="#000" stroke-width="0"/>
<circle cx="223.48" cy="281.62" r="4.9" fill="#000" stroke="#000" stroke-width="0"/>
<circle cx="45.50" cy="216.20" r="3.9" fill="#000" stroke="#000" stroke-width="0"/>
<text x="55.80" y="219.60" font-size="12.25" text-anchor="start" font-weight="normal" fill="#000" >ABX</text>
<rect x="42.00" y="226.70" width="7.0" height="7.0" fill="none" stroke="#78bf45" stroke-width="1"/>
<text x="55.80" y="234.00" font-size="12.25" text-anchor="start" font-weight="normal" fill="#000" >Vancomycin</text>
<rect x="42.00" y="240.70" width="7.0" height="7.0" fill="none" stroke="#de5645" stroke-width="1"/>
<text x="55.80" y="248.40" font-size="12.25" text-anchor="start" font-weight="normal" fill="#000" >Neomycin</text>
<rect x="42.00" y="255.40" width="7.0" height="7.0" fill="none" stroke="#6470bb" stroke-width="1"/>
<text x="55.80" y="262.90" font-size="12.25" text-anchor="start" font-weight="normal" fill="#000" >Ampicillin</text>
<circle cx="45.50" cy="273.30" r="3.6" fill="none" stroke="#000" stroke-width="1"/>
<line x1="41.30" y1="273.30" x2="49.70" y2="273.30" stroke="#000" stroke-width="1" />
<text x="55.80" y="277.30" font-size="12.25" text-anchor="start" font-weight="normal" fill="#000" >PBS</text>
<line x1="233.70" y1="206.00" x2="233.70" y2="266.00" stroke="#000" stroke-width="1" />
<polygon points="239.90,230.60 240.66,232.15 242.37,232.40 241.14,233.60 241.43,235.30 239.90,234.50 238.37,235.30 238.66,233.60 237.43,232.40 239.14,232.15" fill="#000"/>
<polygon points="246.10,230.60 246.86,232.15 248.57,232.40 247.34,233.60 247.63,235.30 246.10,234.50 244.57,235.30 244.86,233.60 243.63,232.40 245.34,232.15" fill="#000"/>
<polygon points="252.30,230.60 253.06,232.15 254.77,232.40 253.54,233.60 253.83,235.30 252.30,234.50 250.77,235.30 251.06,233.60 249.83,232.40 251.54,232.15" fill="#000"/>
<text x="269.90" y="181.20" font-size="14.3" text-anchor="start" font-weight="bold" fill="#000" >d</text>
<line x1="317.40" y1="204.60" x2="317.40" y2="303.30" stroke="#000" stroke-width="1" />
<line x1="316.90" y1="303.30" x2="492.60" y2="303.30" stroke="#000" stroke-width="1" />
<line x1="314.00" y1="303.30" x2="317.40" y2="303.30" stroke="#000" stroke-width="1.2" />
<text x="304.30" y="307.30" font-size="11.5" text-anchor="end" font-weight="normal" fill="#000" >10</text>
<text x="304.40" y="301.30" font-size="8.4" text-anchor="start" font-weight="normal" fill="#000" >0</text>
<line x1="315.40" y1="297.36" x2="317.40" y2="297.36" stroke="#222" stroke-width="0.8" />
<line x1="315.40" y1="293.88" x2="317.40" y2="293.88" stroke="#222" stroke-width="0.8" />
<line x1="315.40" y1="291.42" x2="317.40" y2="291.42" stroke="#222" stroke-width="0.8" />
<line x1="315.40" y1="289.50" x2="317.40" y2="289.50" stroke="#222" stroke-width="0.8" />
<line x1="315.40" y1="287.94" x2="317.40" y2="287.94" stroke="#222" stroke-width="0.8" />
<line x1="315.40" y1="286.62" x2="317.40" y2="286.62" stroke="#222" stroke-width="0.8" />
<line x1="315.40" y1="285.47" x2="317.40" y2="285.47" stroke="#222" stroke-width="0.8" />
<line x1="315.40" y1="284.46" x2="317.40" y2="284.46" stroke="#222" stroke-width="0.8" />
<line x1="314.00" y1="283.56" x2="317.40" y2="283.56" stroke="#000" stroke-width="1.2" />
<text x="304.30" y="287.56" font-size="11.5" text-anchor="end" font-weight="normal" fill="#000" >10</text>
<text x="304.40" y="281.56" font-size="8.4" text-anchor="start" font-weight="normal" fill="#000" >1</text>
<line x1="315.40" y1="277.62" x2="317.40" y2="277.62" stroke="#222" stroke-width="0.8" />
<line x1="315.40" y1="274.14" x2="317.40" y2="274.14" stroke="#222" stroke-width="0.8" />
<line x1="315.40" y1="271.68" x2="317.40" y2="271.68" stroke="#222" stroke-width="0.8" />
<line x1="315.40" y1="269.76" x2="317.40" y2="269.76" stroke="#222" stroke-width="0.8" />
<line x1="315.40" y1="268.20" x2="317.40" y2="268.20" stroke="#222" stroke-width="0.8" />
<line x1="315.40" y1="266.88" x2="317.40" y2="266.88" stroke="#222" stroke-width="0.8" />
<line x1="315.40" y1="265.73" x2="317.40" y2="265.73" stroke="#222" stroke-width="0.8" />
<line x1="315.40" y1="264.72" x2="317.40" y2="264.72" stroke="#222" stroke-width="0.8" />
<line x1="314.00" y1="263.82" x2="317.40" y2="263.82" stroke="#000" stroke-width="1.2" />
<text x="304.30" y="267.82" font-size="11.5" text-anchor="end" font-weight="normal" fill="#000" >10</text>
<text x="304.40" y="261.82" font-size="8.4" text-anchor="start" font-weight="normal" fill="#000" >2</text>
<line x1="315.40" y1="257.88" x2="317.40" y2="257.88" stroke="#222" stroke-width="0.8" />
<line x1="315.40" y1="254.40" x2="317.40" y2="254.40" stroke="#222" stroke-width="0.8" />
<line x1="315.40" y1="251.94" x2="317.40" y2="251.94" stroke="#222" stroke-width="0.8" />
<line x1="315.40" y1="250.02" x2="317.40" y2="250.02" stroke="#222" stroke-width="0.8" />
<line x1="315.40" y1="248.46" x2="317.40" y2="248.46" stroke="#222" stroke-width="0.8" />
<line x1="315.40" y1="247.14" x2="317.40" y2="247.14" stroke="#222" stroke-width="0.8" />
<line x1="315.40" y1="245.99" x2="317.40" y2="245.99" stroke="#222" stroke-width="0.8" />
<line x1="315.40" y1="244.98" x2="317.40" y2="244.98" stroke="#222" stroke-width="0.8" />
<line x1="314.00" y1="244.08" x2="317.40" y2="244.08" stroke="#000" stroke-width="1.2" />
<text x="304.30" y="248.08" font-size="11.5" text-anchor="end" font-weight="normal" fill="#000" >10</text>
<text x="304.40" y="242.08" font-size="8.4" text-anchor="start" font-weight="normal" fill="#000" >3</text>
<line x1="315.40" y1="238.14" x2="317.40" y2="238.14" stroke="#222" stroke-width="0.8" />
<line x1="315.40" y1="234.66" x2="317.40" y2="234.66" stroke="#222" stroke-width="0.8" />
<line x1="315.40" y1="232.20" x2="317.40" y2="232.20" stroke="#222" stroke-width="0.8" />
<line x1="315.40" y1="230.28" x2="317.40" y2="230.28" stroke="#222" stroke-width="0.8" />
<line x1="315.40" y1="228.72" x2="317.40" y2="228.72" stroke="#222" stroke-width="0.8" />
<line x1="315.40" y1="227.40" x2="317.40" y2="227.40" stroke="#222" stroke-width="0.8" />
<line x1="315.40" y1="226.25" x2="317.40" y2="226.25" stroke="#222" stroke-width="0.8" />
<line x1="315.40" y1="225.24" x2="317.40" y2="225.24" stroke="#222" stroke-width="0.8" />
<line x1="314.00" y1="224.34" x2="317.40" y2="224.34" stroke="#000" stroke-width="1.2" />
<text x="304.30" y="228.34" font-size="11.5" text-anchor="end" font-weight="normal" fill="#000" >10</text>
<text x="304.40" y="222.34" font-size="8.4" text-anchor="start" font-weight="normal" fill="#000" >4</text>
<line x1="315.40" y1="218.40" x2="317.40" y2="218.40" stroke="#222" stroke-width="0.8" />
<line x1="315.40" y1="214.92" x2="317.40" y2="214.92" stroke="#222" stroke-width="0.8" />
<line x1="315.40" y1="212.46" x2="317.40" y2="212.46" stroke="#222" stroke-width="0.8" />
<line x1="315.40" y1="210.54" x2="317.40" y2="210.54" stroke="#222" stroke-width="0.8" />
<line x1="315.40" y1="208.98" x2="317.40" y2="208.98" stroke="#222" stroke-width="0.8" />
<line x1="315.40" y1="207.66" x2="317.40" y2="207.66" stroke="#222" stroke-width="0.8" />
<line x1="315.40" y1="206.51" x2="317.40" y2="206.51" stroke="#222" stroke-width="0.8" />
<line x1="315.40" y1="205.50" x2="317.40" y2="205.50" stroke="#222" stroke-width="0.8" />
<line x1="314.00" y1="204.60" x2="317.40" y2="204.60" stroke="#000" stroke-width="1.2" />
<text x="304.30" y="208.60" font-size="11.5" text-anchor="end" font-weight="normal" fill="#000" >10</text>
<text x="304.40" y="202.60" font-size="8.4" text-anchor="start" font-weight="normal" fill="#000" >5</text>
<line x1="346.60" y1="303.30" x2="346.60" y2="306.80" stroke="#000" stroke-width="0.8" />
<text x="346.60" y="321.20" font-size="12.25" text-anchor="middle" font-weight="normal" fill="#000" >1</text>
<line x1="405.40" y1="303.30" x2="405.40" y2="306.80" stroke="#000" stroke-width="0.8" />
<text x="405.40" y="321.20" font-size="12.25" text-anchor="middle" font-weight="normal" fill="#000" >2</text>
<line x1="463.80" y1="303.30" x2="463.80" y2="306.80" stroke="#000" stroke-width="0.8" />
<text x="463.80" y="321.20" font-size="12.25" text-anchor="middle" font-weight="normal" fill="#000" >3</text>
<text x="334.40" y="341.40" font-size="12.25" text-anchor="start" font-weight="normal" fill="#000" >Days post HSV-2 infection</text>
<text x="0" y="0" font-size="12.0" text-anchor="middle" transform="translate(281.30,254.45) rotate(-90)">p.f.u. per vagina</text>
<line x1="317.40" y1="291.40" x2="492.60" y2="291.40" stroke="#000" stroke-width="1" stroke-dasharray="8.5 4.5"/>
<line x1="318.00" y1="291.40" x2="375.00" y2="291.40" stroke="#000" stroke-width="1" />
<circle cx="325.80" cy="291.40" r="3.9" fill="none" stroke="#000" stroke-width="1"/>
<rect x="332.40" y="287.40" width="8.0" height="8.0" fill="none" stroke="#78bf45" stroke-width="1"/>
<rect x="342.60" y="287.40" width="8.0" height="8.0" fill="none" stroke="#6470bb" stroke-width="1"/>
<rect x="353.00" y="287.40" width="8.0" height="8.0" fill="none" stroke="#de5645" stroke-width="1"/>
<circle cx="367.20" cy="291.40" r="4.1" fill="#000" stroke="#000" stroke-width="0"/>
<circle cx="384.60" cy="210.50" r="3.9" fill="none" stroke="#000" stroke-width="1"/>
<circle cx="384.60" cy="217.50" r="3.9" fill="none" stroke="#000" stroke-width="1"/>
<circle cx="384.60" cy="219.70" r="3.9" fill="none" stroke="#000" stroke-width="1"/>
<circle cx="384.60" cy="221.90" r="3.9" fill="none" stroke="#000" stroke-width="1"/>
<circle cx="384.60" cy="230.20" r="3.9" fill="none" stroke="#000" stroke-width="1"/>
<line x1="380.10" y1="218.60" x2="389.10" y2="218.60" stroke="#000" stroke-width="1" />
<line x1="384.60" y1="215.00" x2="384.60" y2="222.00" stroke="#000" stroke-width="1" />
<line x1="382.60" y1="215.00" x2="386.60" y2="215.00" stroke="#000" stroke-width="1" />
<line x1="382.60" y1="222.00" x2="386.60" y2="222.00" stroke="#000" stroke-width="1" />
<rect x="391.00" y="206.20" width="8.0" height="8.0" fill="none" stroke="#78bf45" stroke-width="1"/>
<rect x="391.00" y="211.30" width="8.0" height="8.0" fill="none" stroke="#78bf45" stroke-width="1"/>
<rect x="391.00" y="214.40" width="8.0" height="8.0" fill="none" stroke="#78bf45" stroke-width="1"/>
<rect x="391.00" y="217.00" width="8.0" height="8.0" fill="none" stroke="#78bf45" stroke-width="1"/>
<rect x="391.00" y="219.60" width="8.0" height="8.0" fill="none" stroke="#78bf45" stroke-width="1"/>
<rect x="391.00" y="233.70" width="8.0" height="8.0" fill="none" stroke="#78bf45" stroke-width="1"/>
<line x1="391.00" y1="215.60" x2="399.00" y2="215.60" stroke="#3d8a1c" stroke-width="1.6" />
<rect x="401.20" y="210.30" width="8.0" height="8.0" fill="none" stroke="#6470bb" stroke-width="1"/>
<rect x="401.20" y="213.20" width="8.0" height="8.0" fill="none" stroke="#6470bb" stroke-width="1"/>
<rect x="401.20" y="215.80" width="8.0" height="8.0" fill="none" stroke="#6470bb" stroke-width="1"/>
<rect x="401.20" y="217.70" width="8.0" height="8.0" fill="none" stroke="#6470bb" stroke-width="1"/>
<rect x="401.20" y="220.00" width="8.0" height="8.0" fill="none" stroke="#6470bb" stroke-width="1"/>
<line x1="401.00" y1="218.40" x2="409.40" y2="218.40" stroke="#2a3590" stroke-width="1.2" />
<rect x="411.60" y="250.40" width="8.0" height="8.0" fill="none" stroke="#de5645" stroke-width="1"/>
<rect x="411.60" y="266.80" width="8.0" height="8.0" fill="none" stroke="#de5645" stroke-width="1"/>
<rect x="411.60" y="287.40" width="8.0" height="8.0" fill="none" stroke="#de5645" stroke-width="1"/>
<line x1="415.60" y1="261.50" x2="415.60" y2="281.30" stroke="#de5645" stroke-width="1" />
<line x1="413.80" y1="261.50" x2="417.40" y2="261.50" stroke="#de5645" stroke-width="1" />
<line x1="413.80" y1="281.30" x2="417.40" y2="281.30" stroke="#de5645" stroke-width="1" />
<circle cx="425.80" cy="253.30" r="4.1" fill="#000" stroke="#000" stroke-width="0"/>
<circle cx="425.80" cy="262.50" r="4.1" fill="#000" stroke="#000" stroke-width="0"/>
<circle cx="425.80" cy="266.00" r="4.1" fill="#000" stroke="#000" stroke-width="0"/>
<circle cx="425.80" cy="291.60" r="4.1" fill="#000" stroke="#000" stroke-width="0"/>
<polyline points="380.7,196.3 406.7,196.3" fill="none" stroke="#000" stroke-width="1"/>
<polyline points="395.6,196.3 395.6,186.4 419.7,186.4 419.7,240.5" fill="none" stroke="#000" stroke-width="1"/>
<line x1="412.20" y1="240.50" x2="426.70" y2="240.50" stroke="#000" stroke-width="1" />
<polygon points="404.60,177.80 405.48,179.59 407.45,179.87 406.03,181.26 406.36,183.23 404.60,182.30 402.84,183.23 403.17,181.26 401.75,179.87 403.72,179.59" fill="#000"/>
<polygon points="410.90,177.80 411.78,179.59 413.75,179.87 412.33,181.26 412.66,183.23 410.90,182.30 409.14,183.23 409.47,181.26 408.05,179.87 410.02,179.59" fill="#000"/>
<circle cx="442.90" cy="228.10" r="3.9" fill="none" stroke="#000" stroke-width="1"/>
<circle cx="442.90" cy="236.00" r="3.9" fill="none" stroke="#000" stroke-width="1"/>
<circle cx="442.90" cy="238.20" r="3.9" fill="none" stroke="#000" stroke-width="1"/>
<circle cx="442.90" cy="240.40" r="3.9" fill="none" stroke="#000" stroke-width="1"/>
<circle cx="442.90" cy="243.00" r="3.9" fill="none" stroke="#000" stroke-width="1"/>
<circle cx="442.90" cy="259.70" r="3.9" fill="none" stroke="#000" stroke-width="1"/>
<line x1="438.50" y1="238.20" x2="447.30" y2="238.20" stroke="#000" stroke-width="1" />
<rect x="449.40" y="231.20" width="8.0" height="8.0" fill="none" stroke="#78bf45" stroke-width="1"/>
<rect x="449.40" y="234.30" width="8.0" height="8.0" fill="none" stroke="#78bf45" stroke-width="1"/>
<rect x="449.40" y="236.50" width="8.0" height="8.0" fill="none" stroke="#78bf45" stroke-width="1"/>
<rect x="449.40" y="239.00" width="8.0" height="8.0" fill="none" stroke="#78bf45" stroke-width="1"/>
<line x1="449.40" y1="238.50" x2="457.40" y2="238.50" stroke="#3d8a1c" stroke-width="1.4" />
<rect x="459.70" y="233.00" width="8.0" height="8.0" fill="none" stroke="#6470bb" stroke-width="1"/>
<rect x="459.70" y="236.00" width="8.0" height="8.0" fill="none" stroke="#6470bb" stroke-width="1"/>
<rect x="459.70" y="239.00" width="8.0" height="8.0" fill="none" stroke="#6470bb" stroke-width="1"/>
<rect x="459.70" y="242.00" width="8.0" height="8.0" fill="none" stroke="#6470bb" stroke-width="1"/>
<rect x="459.70" y="245.50" width="8.0" height="8.0" fill="none" stroke="#6470bb" stroke-width="1"/>
<rect x="459.70" y="249.90" width="8.0" height="8.0" fill="none" stroke="#6470bb" stroke-width="1"/>
<line x1="459.70" y1="242.60" x2="467.70" y2="242.60" stroke="#2a3590" stroke-width="1.2" />
<rect x="470.00" y="224.60" width="8.0" height="8.0" fill="none" stroke="#de5645" stroke-width="1"/>
<rect x="470.00" y="227.50" width="8.0" height="8.0" fill="none" stroke="#de5645" stroke-width="1"/>
<rect x="470.00" y="231.10" width="8.0" height="8.0" fill="none" stroke="#de5645" stroke-width="1"/>
<rect x="470.00" y="287.40" width="8.0" height="8.0" fill="none" stroke="#de5645" stroke-width="1"/>
<line x1="474.00" y1="238.00" x2="474.00" y2="248.30" stroke="#de5645" stroke-width="1" />
<line x1="472.30" y1="248.30" x2="475.70" y2="248.30" stroke="#de5645" stroke-width="1" />
<line x1="470.00" y1="238.60" x2="478.00" y2="238.60" stroke="#a03020" stroke-width="1.2" />
<circle cx="484.20" cy="228.60" r="4.1" fill="#000" stroke="#000" stroke-width="0"/>
<circle cx="484.20" cy="231.00" r="4.1" fill="#000" stroke="#000" stroke-width="0"/>
<circle cx="484.20" cy="232.60" r="4.1" fill="#000" stroke="#000" stroke-width="0"/>
<circle cx="484.20" cy="271.50" r="4.1" fill="#000" stroke="#000" stroke-width="0"/>
<line x1="484.20" y1="233.00" x2="484.20" y2="237.00" stroke="#000" stroke-width="1" />
<text x="0.00" y="364.70" font-size="14.3" text-anchor="start" font-weight="bold" fill="#000" >e</text>
<line x1="34.00" y1="374.40" x2="34.00" y2="479.40" stroke="#000" stroke-width="1" />
<line x1="33.50" y1="479.40" x2="222.00" y2="479.40" stroke="#000" stroke-width="1" />
<line x1="31.00" y1="479.40" x2="34.00" y2="479.40" stroke="#000" stroke-width="1" />
<text x="26.30" y="483.40" font-size="12.25" text-anchor="end" font-weight="normal" fill="#000" >0</text>
<line x1="31.00" y1="458.40" x2="34.00" y2="458.40" stroke="#000" stroke-width="1" />
<text x="26.30" y="462.40" font-size="12.25" text-anchor="end" font-weight="normal" fill="#000" >1</text>
<line x1="31.00" y1="437.40" x2="34.00" y2="437.40" stroke="#000" stroke-width="1" />
<text x="26.30" y="441.40" font-size="12.25" text-anchor="end" font-weight="normal" fill="#000" >2</text>
<line x1="31.00" y1="416.40" x2="34.00" y2="416.40" stroke="#000" stroke-width="1" />
<text x="26.30" y="420.40" font-size="12.25" text-anchor="end" font-weight="normal" fill="#000" >3</text>
<line x1="31.00" y1="395.40" x2="34.00" y2="395.40" stroke="#000" stroke-width="1" />
<text x="26.30" y="399.40" font-size="12.25" text-anchor="end" font-weight="normal" fill="#000" >4</text>
<line x1="31.00" y1="374.40" x2="34.00" y2="374.40" stroke="#000" stroke-width="1" />
<text x="26.30" y="378.40" font-size="12.25" text-anchor="end" font-weight="normal" fill="#000" >5</text>
<line x1="42.30" y1="479.40" x2="42.30" y2="482.90" stroke="#333" stroke-width="0.8" />
<text x="42.30" y="497.30" font-size="12.25" text-anchor="middle" font-weight="normal" fill="#000" >1</text>
<line x1="57.94" y1="479.40" x2="57.94" y2="482.90" stroke="#333" stroke-width="0.8" />
<text x="57.94" y="497.30" font-size="12.25" text-anchor="middle" font-weight="normal" fill="#000" >2</text>
<line x1="73.58" y1="479.40" x2="73.58" y2="482.90" stroke="#333" stroke-width="0.8" />
<text x="73.58" y="497.30" font-size="12.25" text-anchor="middle" font-weight="normal" fill="#000" >3</text>
<line x1="89.22" y1="479.40" x2="89.22" y2="482.90" stroke="#333" stroke-width="0.8" />
<text x="89.22" y="497.30" font-size="12.25" text-anchor="middle" font-weight="normal" fill="#000" >4</text>
<line x1="104.86" y1="479.40" x2="104.86" y2="482.90" stroke="#333" stroke-width="0.8" />
<text x="104.86" y="497.30" font-size="12.25" text-anchor="middle" font-weight="normal" fill="#000" >5</text>
<line x1="120.50" y1="479.40" x2="120.50" y2="482.90" stroke="#333" stroke-width="0.8" />
<text x="120.50" y="497.30" font-size="12.25" text-anchor="middle" font-weight="normal" fill="#000" >6</text>
<line x1="136.14" y1="479.40" x2="136.14" y2="482.90" stroke="#333" stroke-width="0.8" />
<text x="136.14" y="497.30" font-size="12.25" text-anchor="middle" font-weight="normal" fill="#000" >7</text>
<line x1="151.78" y1="479.40" x2="151.78" y2="482.90" stroke="#333" stroke-width="0.8" />
<text x="151.78" y="497.30" font-size="12.25" text-anchor="middle" font-weight="normal" fill="#000" >8</text>
<line x1="167.42" y1="479.40" x2="167.42" y2="482.90" stroke="#333" stroke-width="0.8" />
<text x="167.42" y="497.30" font-size="12.25" text-anchor="middle" font-weight="normal" fill="#000" >9</text>
<line x1="183.06" y1="479.40" x2="183.06" y2="482.90" stroke="#333" stroke-width="0.8" />
<text x="183.06" y="497.30" font-size="12.25" text-anchor="middle" font-weight="normal" fill="#000" >10</text>
<line x1="198.70" y1="479.40" x2="198.70" y2="482.90" stroke="#333" stroke-width="0.8" />
<text x="198.70" y="497.30" font-size="12.25" text-anchor="middle" font-weight="normal" fill="#000" >11</text>
<line x1="214.34" y1="479.40" x2="214.34" y2="482.90" stroke="#333" stroke-width="0.8" />
<text x="214.34" y="497.30" font-size="12.25" text-anchor="middle" font-weight="normal" fill="#000" >12</text>
<text x="58.30" y="516.70" font-size="12.25" text-anchor="start" font-weight="normal" fill="#000" >Days post HSV-2 infection</text>
<text x="0" y="0" font-size="12.0" text-anchor="middle" transform="translate(10.70,426.90) rotate(-90)">Disease score</text>
<line x1="120.50" y1="473.52" x2="120.50" y2="471.42" stroke="#000" stroke-width="1" />
<line x1="116.10" y1="473.52" x2="124.90" y2="473.52" stroke="#000" stroke-width="1" />
<line x1="116.10" y1="471.42" x2="124.90" y2="471.42" stroke="#000" stroke-width="1" />
<line x1="136.14" y1="463.02" x2="136.14" y2="453.78" stroke="#000" stroke-width="1" />
<line x1="131.74" y1="463.02" x2="140.54" y2="463.02" stroke="#000" stroke-width="1" />
<line x1="131.74" y1="453.78" x2="140.54" y2="453.78" stroke="#000" stroke-width="1" />
<line x1="151.78" y1="460.92" x2="151.78" y2="450.84" stroke="#000" stroke-width="1" />
<line x1="147.38" y1="460.92" x2="156.18" y2="460.92" stroke="#000" stroke-width="1" />
<line x1="147.38" y1="450.84" x2="156.18" y2="450.84" stroke="#000" stroke-width="1" />
<line x1="167.42" y1="461.55" x2="167.42" y2="445.59" stroke="#000" stroke-width="1" />
<line x1="163.02" y1="461.55" x2="171.82" y2="461.55" stroke="#000" stroke-width="1" />
<line x1="163.02" y1="445.59" x2="171.82" y2="445.59" stroke="#000" stroke-width="1" />
<line x1="183.06" y1="455.04" x2="183.06" y2="440.76" stroke="#000" stroke-width="1" />
<line x1="178.66" y1="455.04" x2="187.46" y2="455.04" stroke="#000" stroke-width="1" />
<line x1="178.66" y1="440.76" x2="187.46" y2="440.76" stroke="#000" stroke-width="1" />
<line x1="198.70" y1="448.11" x2="198.70" y2="418.29" stroke="#000" stroke-width="1" />
<line x1="194.30" y1="448.11" x2="203.10" y2="448.11" stroke="#000" stroke-width="1" />
<line x1="194.30" y1="418.29" x2="203.10" y2="418.29" stroke="#000" stroke-width="1" />
<line x1="214.34" y1="439.29" x2="214.34" y2="410.31" stroke="#000" stroke-width="1" />
<line x1="209.94" y1="439.29" x2="218.74" y2="439.29" stroke="#000" stroke-width="1" />
<line x1="209.94" y1="410.31" x2="218.74" y2="410.31" stroke="#000" stroke-width="1" />
<polyline points="42.30,479.40 57.94,479.40 73.58,479.40 89.22,479.40 104.86,479.40 120.50,472.47 136.14,458.40 151.78,455.88 167.42,453.57 183.06,447.90 198.70,433.20 214.34,424.80" fill="none" stroke="#000" stroke-width="1" stroke-linejoin="round"/>
<rect x="38.00" y="475.10" width="8.6" height="8.6" fill="none" stroke="#000" stroke-width="1"/>
<rect x="53.64" y="475.10" width="8.6" height="8.6" fill="none" stroke="#000" stroke-width="1"/>
<rect x="69.28" y="475.10" width="8.6" height="8.6" fill="none" stroke="#000" stroke-width="1"/>
<rect x="84.92" y="475.10" width="8.6" height="8.6" fill="none" stroke="#000" stroke-width="1"/>
<rect x="100.56" y="475.10" width="8.6" height="8.6" fill="none" stroke="#000" stroke-width="1"/>
<rect x="116.20" y="468.17" width="8.6" height="8.6" fill="none" stroke="#000" stroke-width="1"/>
<rect x="131.84" y="454.10" width="8.6" height="8.6" fill="none" stroke="#000" stroke-width="1"/>
<rect x="147.48" y="451.58" width="8.6" height="8.6" fill="none" stroke="#000" stroke-width="1"/>
<rect x="163.12" y="449.27" width="8.6" height="8.6" fill="none" stroke="#000" stroke-width="1"/>
<rect x="178.76" y="443.60" width="8.6" height="8.6" fill="none" stroke="#000" stroke-width="1"/>
<rect x="194.40" y="428.90" width="8.6" height="8.6" fill="none" stroke="#000" stroke-width="1"/>
<rect x="210.04" y="420.50" width="8.6" height="8.6" fill="none" stroke="#000" stroke-width="1"/>
<polyline points="42.30,479.40 57.94,479.40 73.58,479.40 89.22,479.40 104.86,479.40 120.50,479.40 136.14,476.88 151.78,475.41 167.42,475.41 183.06,479.40 198.70,479.40 214.34,479.40" fill="none" stroke="#000" stroke-width="1" stroke-linejoin="round"/>
<rect x="37.60" y="474.70" width="9.4" height="9.4" fill="#000" stroke="#000" stroke-width="0"/>
<rect x="53.24" y="474.70" width="9.4" height="9.4" fill="#000" stroke="#000" stroke-width="0"/>
<rect x="68.88" y="474.70" width="9.4" height="9.4" fill="#000" stroke="#000" stroke-width="0"/>
<rect x="84.52" y="474.70" width="9.4" height="9.4" fill="#000" stroke="#000" stroke-width="0"/>
<rect x="100.16" y="474.70" width="9.4" height="9.4" fill="#000" stroke="#000" stroke-width="0"/>
<rect x="115.80" y="474.70" width="9.4" height="9.4" fill="#000" stroke="#000" stroke-width="0"/>
<rect x="131.44" y="472.18" width="9.4" height="9.4" fill="#000" stroke="#000" stroke-width="0"/>
<rect x="147.08" y="470.71" width="9.4" height="9.4" fill="#000" stroke="#000" stroke-width="0"/>
<rect x="162.72" y="470.71" width="9.4" height="9.4" fill="#000" stroke="#000" stroke-width="0"/>
<rect x="178.36" y="474.70" width="9.4" height="9.4" fill="#000" stroke="#000" stroke-width="0"/>
<rect x="194.00" y="474.70" width="9.4" height="9.4" fill="#000" stroke="#000" stroke-width="0"/>
<rect x="209.64" y="474.70" width="9.4" height="9.4" fill="#000" stroke="#000" stroke-width="0"/>
<rect x="55.70" y="406.70" width="8.6" height="8.6" fill="none" stroke="#000" stroke-width="1"/>
<line x1="54.20" y1="411.00" x2="65.80" y2="411.00" stroke="#000" stroke-width="1" />
<text x="71.30" y="414.90" font-size="12.25" text-anchor="start" font-weight="normal" fill="#000" >PBS</text>
<rect x="54.9" y="422.3" width="10" height="9.3" fill="#000"/>
<line x1="54.20" y1="427.00" x2="65.80" y2="427.00" stroke="#000" stroke-width="1" />
<text x="71.30" y="430.90" font-size="12.25" text-anchor="start" font-weight="normal" fill="#000" >Neomycin</text>
<line x1="229.50" y1="416.10" x2="229.50" y2="477.00" stroke="#000" stroke-width="1" />
<polygon points="235.80,440.30 236.56,441.85 238.27,442.10 237.04,443.30 237.33,445.00 235.80,444.20 234.27,445.00 234.56,443.30 233.33,442.10 235.04,441.85" fill="#000"/>
<polygon points="242.10,440.30 242.86,441.85 244.57,442.10 243.34,443.30 243.63,445.00 242.10,444.20 240.57,445.00 240.86,443.30 239.63,442.10 241.34,441.85" fill="#000"/>
<text x="270.00" y="364.70" font-size="14.3" text-anchor="start" font-weight="bold" fill="#000" >f</text>
<line x1="316.50" y1="369.20" x2="316.50" y2="479.20" stroke="#000" stroke-width="1" />
<line x1="316.00" y1="479.20" x2="512.00" y2="479.20" stroke="#000" stroke-width="1" />
<line x1="313.10" y1="479.20" x2="316.50" y2="479.20" stroke="#000" stroke-width="1.2" />
<text x="304.30" y="483.20" font-size="11.5" text-anchor="end" font-weight="normal" fill="#000" >10</text>
<text x="304.40" y="477.20" font-size="8.4" text-anchor="start" font-weight="normal" fill="#000" >0</text>
<line x1="314.50" y1="473.68" x2="316.50" y2="473.68" stroke="#222" stroke-width="0.8" />
<line x1="314.50" y1="470.45" x2="316.50" y2="470.45" stroke="#222" stroke-width="0.8" />
<line x1="314.50" y1="468.16" x2="316.50" y2="468.16" stroke="#222" stroke-width="0.8" />
<line x1="314.50" y1="466.39" x2="316.50" y2="466.39" stroke="#222" stroke-width="0.8" />
<line x1="314.50" y1="464.93" x2="316.50" y2="464.93" stroke="#222" stroke-width="0.8" />
<line x1="314.50" y1="463.71" x2="316.50" y2="463.71" stroke="#222" stroke-width="0.8" />
<line x1="314.50" y1="462.64" x2="316.50" y2="462.64" stroke="#222" stroke-width="0.8" />
<line x1="314.50" y1="461.71" x2="316.50" y2="461.71" stroke="#222" stroke-width="0.8" />
<line x1="313.10" y1="460.87" x2="316.50" y2="460.87" stroke="#000" stroke-width="1.2" />
<text x="304.30" y="464.87" font-size="11.5" text-anchor="end" font-weight="normal" fill="#000" >10</text>
<text x="304.40" y="458.87" font-size="8.4" text-anchor="start" font-weight="normal" fill="#000" >1</text>
<line x1="314.50" y1="455.35" x2="316.50" y2="455.35" stroke="#222" stroke-width="0.8" />
<line x1="314.50" y1="452.12" x2="316.50" y2="452.12" stroke="#222" stroke-width="0.8" />
<line x1="314.50" y1="449.83" x2="316.50" y2="449.83" stroke="#222" stroke-width="0.8" />
<line x1="314.50" y1="448.05" x2="316.50" y2="448.05" stroke="#222" stroke-width="0.8" />
<line x1="314.50" y1="446.60" x2="316.50" y2="446.60" stroke="#222" stroke-width="0.8" />
<line x1="314.50" y1="445.37" x2="316.50" y2="445.37" stroke="#222" stroke-width="0.8" />
<line x1="314.50" y1="444.31" x2="316.50" y2="444.31" stroke="#222" stroke-width="0.8" />
<line x1="314.50" y1="443.37" x2="316.50" y2="443.37" stroke="#222" stroke-width="0.8" />
<line x1="313.10" y1="442.53" x2="316.50" y2="442.53" stroke="#000" stroke-width="1.2" />
<text x="304.30" y="446.53" font-size="11.5" text-anchor="end" font-weight="normal" fill="#000" >10</text>
<text x="304.40" y="440.53" font-size="8.4" text-anchor="start" font-weight="normal" fill="#000" >2</text>
<line x1="314.50" y1="437.01" x2="316.50" y2="437.01" stroke="#222" stroke-width="0.8" />
<line x1="314.50" y1="433.79" x2="316.50" y2="433.79" stroke="#222" stroke-width="0.8" />
<line x1="314.50" y1="431.50" x2="316.50" y2="431.50" stroke="#222" stroke-width="0.8" />
<line x1="314.50" y1="429.72" x2="316.50" y2="429.72" stroke="#222" stroke-width="0.8" />
<line x1="314.50" y1="428.27" x2="316.50" y2="428.27" stroke="#222" stroke-width="0.8" />
<line x1="314.50" y1="427.04" x2="316.50" y2="427.04" stroke="#222" stroke-width="0.8" />
<line x1="314.50" y1="425.98" x2="316.50" y2="425.98" stroke="#222" stroke-width="0.8" />
<line x1="314.50" y1="425.04" x2="316.50" y2="425.04" stroke="#222" stroke-width="0.8" />
<line x1="313.10" y1="424.20" x2="316.50" y2="424.20" stroke="#000" stroke-width="1.2" />
<text x="304.30" y="428.20" font-size="11.5" text-anchor="end" font-weight="normal" fill="#000" >10</text>
<text x="304.40" y="422.20" font-size="8.4" text-anchor="start" font-weight="normal" fill="#000" >3</text>
<line x1="314.50" y1="418.68" x2="316.50" y2="418.68" stroke="#222" stroke-width="0.8" />
<line x1="314.50" y1="415.45" x2="316.50" y2="415.45" stroke="#222" stroke-width="0.8" />
<line x1="314.50" y1="413.16" x2="316.50" y2="413.16" stroke="#222" stroke-width="0.8" />
<line x1="314.50" y1="411.39" x2="316.50" y2="411.39" stroke="#222" stroke-width="0.8" />
<line x1="314.50" y1="409.93" x2="316.50" y2="409.93" stroke="#222" stroke-width="0.8" />
<line x1="314.50" y1="408.71" x2="316.50" y2="408.71" stroke="#222" stroke-width="0.8" />
<line x1="314.50" y1="407.64" x2="316.50" y2="407.64" stroke="#222" stroke-width="0.8" />
<line x1="314.50" y1="406.71" x2="316.50" y2="406.71" stroke="#222" stroke-width="0.8" />
<line x1="313.10" y1="405.87" x2="316.50" y2="405.87" stroke="#000" stroke-width="1.2" />
<text x="304.30" y="409.87" font-size="11.5" text-anchor="end" font-weight="normal" fill="#000" >10</text>
<text x="304.40" y="403.87" font-size="8.4" text-anchor="start" font-weight="normal" fill="#000" >4</text>
<line x1="314.50" y1="400.35" x2="316.50" y2="400.35" stroke="#222" stroke-width="0.8" />
<line x1="314.50" y1="397.12" x2="316.50" y2="397.12" stroke="#222" stroke-width="0.8" />
<line x1="314.50" y1="394.83" x2="316.50" y2="394.83" stroke="#222" stroke-width="0.8" />
<line x1="314.50" y1="393.05" x2="316.50" y2="393.05" stroke="#222" stroke-width="0.8" />
<line x1="314.50" y1="391.60" x2="316.50" y2="391.60" stroke="#222" stroke-width="0.8" />
<line x1="314.50" y1="390.37" x2="316.50" y2="390.37" stroke="#222" stroke-width="0.8" />
<line x1="314.50" y1="389.31" x2="316.50" y2="389.31" stroke="#222" stroke-width="0.8" />
<line x1="314.50" y1="388.37" x2="316.50" y2="388.37" stroke="#222" stroke-width="0.8" />
<line x1="313.10" y1="387.53" x2="316.50" y2="387.53" stroke="#000" stroke-width="1.2" />
<text x="304.30" y="391.53" font-size="11.5" text-anchor="end" font-weight="normal" fill="#000" >10</text>
<text x="304.40" y="385.53" font-size="8.4" text-anchor="start" font-weight="normal" fill="#000" >5</text>
<line x1="314.50" y1="382.01" x2="316.50" y2="382.01" stroke="#222" stroke-width="0.8" />
<line x1="314.50" y1="378.79" x2="316.50" y2="378.79" stroke="#222" stroke-width="0.8" />
<line x1="314.50" y1="376.50" x2="316.50" y2="376.50" stroke="#222" stroke-width="0.8" />
<line x1="314.50" y1="374.72" x2="316.50" y2="374.72" stroke="#222" stroke-width="0.8" />
<line x1="314.50" y1="373.27" x2="316.50" y2="373.27" stroke="#222" stroke-width="0.8" />
<line x1="314.50" y1="372.04" x2="316.50" y2="372.04" stroke="#222" stroke-width="0.8" />
<line x1="314.50" y1="370.98" x2="316.50" y2="370.98" stroke="#222" stroke-width="0.8" />
<line x1="314.50" y1="370.04" x2="316.50" y2="370.04" stroke="#222" stroke-width="0.8" />
<line x1="313.10" y1="369.20" x2="316.50" y2="369.20" stroke="#000" stroke-width="1.2" />
<text x="304.30" y="373.20" font-size="11.5" text-anchor="end" font-weight="normal" fill="#000" >10</text>
<text x="304.40" y="367.20" font-size="8.4" text-anchor="start" font-weight="normal" fill="#000" >6</text>
<line x1="350.00" y1="479.20" x2="350.00" y2="482.70" stroke="#000" stroke-width="0.8" />
<text x="350.00" y="497.30" font-size="12.25" text-anchor="middle" font-weight="normal" fill="#000" >1</text>
<line x1="414.80" y1="479.20" x2="414.80" y2="482.70" stroke="#000" stroke-width="0.8" />
<text x="414.80" y="497.30" font-size="12.25" text-anchor="middle" font-weight="normal" fill="#000" >2</text>
<line x1="479.60" y1="479.20" x2="479.60" y2="482.70" stroke="#000" stroke-width="0.8" />
<text x="479.60" y="497.30" font-size="12.25" text-anchor="middle" font-weight="normal" fill="#000" >3</text>
<text x="351.60" y="516.30" font-size="12.25" text-anchor="start" font-weight="normal" fill="#000" >Days post HSV-2 infection</text>
<text x="0" y="0" font-size="12.0" text-anchor="middle" transform="translate(281.30,424.70) rotate(-90)">p.f.u. per vagina</text>
<line x1="316.50" y1="468.20" x2="511.50" y2="468.20" stroke="#000" stroke-width="1" stroke-dasharray="8.5 4.5"/>
<rect x="333.90" y="447.00" width="8.0" height="8.0" fill="none" stroke="#000" stroke-width="1"/>
<rect x="328.30" y="453.40" width="8.0" height="8.0" fill="none" stroke="#000" stroke-width="1"/>
<rect x="339.80" y="453.40" width="8.0" height="8.0" fill="none" stroke="#000" stroke-width="1"/>
<line x1="330.00" y1="458.30" x2="346.00" y2="458.30" stroke="#000" stroke-width="1" />
<line x1="330.00" y1="455.60" x2="346.00" y2="455.60" stroke="#000" stroke-width="0.8" />
<line x1="338.00" y1="455.00" x2="338.00" y2="461.00" stroke="#000" stroke-width="0.8" />
<rect x="331.80" y="464.40" width="8.0" height="8.0" fill="#fff" stroke="#000" stroke-width="1"/>
<rect x="335.80" y="464.40" width="8.0" height="8.0" fill="#fff" stroke="#000" stroke-width="1"/>
<line x1="336.20" y1="464.50" x2="336.20" y2="472.40" stroke="#000" stroke-width="0.8" />
<line x1="338.80" y1="464.50" x2="338.80" y2="472.40" stroke="#000" stroke-width="0.8" />
<rect x="356.10" y="464.40" width="8.0" height="8.0" fill="#000" stroke="#000" stroke-width="0"/>
<rect x="360.60" y="464.40" width="8.0" height="8.0" fill="#000" stroke="#000" stroke-width="0"/>
<text x="354.30" y="457.60" font-size="11.7" text-anchor="start" font-weight="normal" fill="#000" ><tspan font-style="italic">n</tspan> = 5</text>
<rect x="396.60" y="382.30" width="8.0" height="8.0" fill="none" stroke="#000" stroke-width="1"/>
<rect x="401.00" y="388.20" width="8.0" height="8.0" fill="none" stroke="#000" stroke-width="1"/>
<rect x="398.60" y="391.80" width="8.0" height="8.0" fill="none" stroke="#000" stroke-width="1"/>
<rect x="399.00" y="390.30" width="8.0" height="8.0" fill="none" stroke="#000" stroke-width="1"/>
<rect x="398.60" y="407.40" width="8.0" height="8.0" fill="none" stroke="#000" stroke-width="1"/>
<rect x="398.90" y="453.30" width="8.0" height="8.0" fill="none" stroke="#000" stroke-width="1"/>
<line x1="395.00" y1="394.30" x2="410.80" y2="394.30" stroke="#000" stroke-width="1" />
<rect x="421.00" y="463.00" width="8.0" height="8.0" fill="#000" stroke="#000" stroke-width="0"/>
<rect x="425.20" y="464.30" width="8.0" height="8.0" fill="#000" stroke="#000" stroke-width="0"/>
<rect x="463.50" y="377.80" width="8.0" height="8.0" fill="none" stroke="#000" stroke-width="1"/>
<rect x="461.20" y="385.60" width="8.0" height="8.0" fill="none" stroke="#000" stroke-width="1"/>
<rect x="465.80" y="385.60" width="8.0" height="8.0" fill="none" stroke="#000" stroke-width="1"/>
<rect x="463.50" y="385.60" width="8.0" height="8.0" fill="none" stroke="#000" stroke-width="1"/>
<rect x="463.50" y="393.50" width="8.0" height="8.0" fill="none" stroke="#000" stroke-width="1"/>
<line x1="459.20" y1="389.60" x2="475.80" y2="389.60" stroke="#000" stroke-width="1" />
<line x1="466.30" y1="386.00" x2="466.30" y2="393.00" stroke="#000" stroke-width="0.8" />
<line x1="468.70" y1="386.00" x2="468.70" y2="393.00" stroke="#000" stroke-width="0.8" />
<rect x="463.40" y="464.10" width="8.0" height="8.0" fill="#fff" stroke="#000" stroke-width="1"/>
<line x1="463.40" y1="468.10" x2="471.40" y2="468.10" stroke="#000" stroke-width="1" />
<rect x="485.20" y="464.30" width="8.0" height="8.0" fill="#000" stroke="#000" stroke-width="0"/>
<rect x="490.40" y="464.30" width="8.0" height="8.0" fill="#000" stroke="#000" stroke-width="0"/>
<line x1="463.00" y1="371.10" x2="491.90" y2="371.10" stroke="#000" stroke-width="1.1" />
<polygon points="474.10,363.10 474.86,364.65 476.57,364.90 475.34,366.10 475.63,367.80 474.10,367.00 472.57,367.80 472.86,366.10 471.63,364.90 473.34,364.65" fill="#000"/>
<polygon points="480.70,363.10 481.46,364.65 483.17,364.90 481.94,366.10 482.23,367.80 480.70,367.00 479.17,367.80 479.46,366.10 478.23,364.90 479.94,364.65" fill="#000"/>
<text x="0.00" y="542.80" font-size="15" text-anchor="start" font-weight="bold" fill="#000" style="font-family:'Liberation Serif', serif">g</text>
<line x1="34.60" y1="544.40" x2="34.60" y2="660.80" stroke="#000" stroke-width="1" />
<line x1="34.10" y1="660.80" x2="209.60" y2="660.80" stroke="#000" stroke-width="1" />
<line x1="31.60" y1="660.80" x2="34.60" y2="660.80" stroke="#000" stroke-width="1" />
<text x="26.30" y="664.80" font-size="12.25" text-anchor="end" font-weight="normal" fill="#000" >0</text>
<line x1="31.60" y1="637.52" x2="34.60" y2="637.52" stroke="#000" stroke-width="1" />
<text x="26.30" y="641.52" font-size="12.25" text-anchor="end" font-weight="normal" fill="#000" >1</text>
<line x1="31.60" y1="614.24" x2="34.60" y2="614.24" stroke="#000" stroke-width="1" />
<text x="26.30" y="618.24" font-size="12.25" text-anchor="end" font-weight="normal" fill="#000" >2</text>
<line x1="31.60" y1="590.96" x2="34.60" y2="590.96" stroke="#000" stroke-width="1" />
<text x="26.30" y="594.96" font-size="12.25" text-anchor="end" font-weight="normal" fill="#000" >3</text>
<line x1="31.60" y1="567.68" x2="34.60" y2="567.68" stroke="#000" stroke-width="1" />
<text x="26.30" y="571.68" font-size="12.25" text-anchor="end" font-weight="normal" fill="#000" >4</text>
<line x1="31.60" y1="544.40" x2="34.60" y2="544.40" stroke="#000" stroke-width="1" />
<text x="26.30" y="548.40" font-size="12.25" text-anchor="end" font-weight="normal" fill="#000" >5</text>
<line x1="44.20" y1="660.80" x2="44.20" y2="664.30" stroke="#333" stroke-width="0.8" />
<text x="44.20" y="679.90" font-size="12.25" text-anchor="middle" font-weight="normal" fill="#000" >1</text>
<line x1="58.40" y1="660.80" x2="58.40" y2="664.30" stroke="#333" stroke-width="0.8" />
<text x="58.40" y="679.90" font-size="12.25" text-anchor="middle" font-weight="normal" fill="#000" >2</text>
<line x1="72.60" y1="660.80" x2="72.60" y2="664.30" stroke="#333" stroke-width="0.8" />
<text x="72.60" y="679.90" font-size="12.25" text-anchor="middle" font-weight="normal" fill="#000" >3</text>
<line x1="86.80" y1="660.80" x2="86.80" y2="664.30" stroke="#333" stroke-width="0.8" />
<text x="86.80" y="679.90" font-size="12.25" text-anchor="middle" font-weight="normal" fill="#000" >4</text>
<line x1="101.00" y1="660.80" x2="101.00" y2="664.30" stroke="#333" stroke-width="0.8" />
<text x="101.00" y="679.90" font-size="12.25" text-anchor="middle" font-weight="normal" fill="#000" >5</text>
<line x1="115.20" y1="660.80" x2="115.20" y2="664.30" stroke="#333" stroke-width="0.8" />
<text x="115.20" y="679.90" font-size="12.25" text-anchor="middle" font-weight="normal" fill="#000" >6</text>
<line x1="129.40" y1="660.80" x2="129.40" y2="664.30" stroke="#333" stroke-width="0.8" />
<text x="129.40" y="679.90" font-size="12.25" text-anchor="middle" font-weight="normal" fill="#000" >7</text>
<line x1="143.60" y1="660.80" x2="143.60" y2="664.30" stroke="#333" stroke-width="0.8" />
<text x="143.60" y="679.90" font-size="12.25" text-anchor="middle" font-weight="normal" fill="#000" >8</text>
<line x1="157.80" y1="660.80" x2="157.80" y2="664.30" stroke="#333" stroke-width="0.8" />
<text x="157.80" y="679.90" font-size="12.25" text-anchor="middle" font-weight="normal" fill="#000" >9</text>
<line x1="172.00" y1="660.80" x2="172.00" y2="664.30" stroke="#333" stroke-width="0.8" />
<text x="172.00" y="679.90" font-size="12.25" text-anchor="middle" font-weight="normal" fill="#000" >10</text>
<line x1="186.20" y1="660.80" x2="186.20" y2="664.30" stroke="#333" stroke-width="0.8" />
<text x="186.20" y="679.90" font-size="12.25" text-anchor="middle" font-weight="normal" fill="#000" >11</text>
<line x1="200.40" y1="660.80" x2="200.40" y2="664.30" stroke="#333" stroke-width="0.8" />
<text x="200.40" y="679.90" font-size="12.25" text-anchor="middle" font-weight="normal" fill="#000" >12</text>
<text x="51.60" y="699.30" font-size="12.25" text-anchor="start" font-weight="normal" fill="#000" >Days post HSV-2 infection</text>
<text x="0" y="0" font-size="12.0" text-anchor="middle" transform="translate(10.70,602.60) rotate(-90)">Disease score</text>
<line x1="115.20" y1="660.10" x2="115.20" y2="657.77" stroke="#e0472d" stroke-width="1" />
<line x1="110.80" y1="660.10" x2="119.60" y2="660.10" stroke="#e0472d" stroke-width="1" />
<line x1="110.80" y1="657.77" x2="119.60" y2="657.77" stroke="#e0472d" stroke-width="1" />
<line x1="129.40" y1="659.17" x2="129.40" y2="638.22" stroke="#e0472d" stroke-width="1" />
<line x1="125.00" y1="659.17" x2="133.80" y2="659.17" stroke="#e0472d" stroke-width="1" />
<line x1="125.00" y1="638.22" x2="133.80" y2="638.22" stroke="#e0472d" stroke-width="1" />
<line x1="143.60" y1="659.40" x2="143.60" y2="636.12" stroke="#e0472d" stroke-width="1" />
<line x1="139.20" y1="659.40" x2="148.00" y2="659.40" stroke="#e0472d" stroke-width="1" />
<line x1="139.20" y1="636.12" x2="148.00" y2="636.12" stroke="#e0472d" stroke-width="1" />
<line x1="157.80" y1="654.28" x2="157.80" y2="625.41" stroke="#e0472d" stroke-width="1" />
<line x1="153.40" y1="654.28" x2="162.20" y2="654.28" stroke="#e0472d" stroke-width="1" />
<line x1="153.40" y1="625.41" x2="162.20" y2="625.41" stroke="#e0472d" stroke-width="1" />
<line x1="172.00" y1="648.93" x2="172.00" y2="620.06" stroke="#e0472d" stroke-width="1" />
<line x1="167.60" y1="648.93" x2="176.40" y2="648.93" stroke="#e0472d" stroke-width="1" />
<line x1="167.60" y1="620.06" x2="176.40" y2="620.06" stroke="#e0472d" stroke-width="1" />
<line x1="186.20" y1="649.86" x2="186.20" y2="621.92" stroke="#e0472d" stroke-width="1" />
<line x1="181.80" y1="649.86" x2="190.60" y2="649.86" stroke="#e0472d" stroke-width="1" />
<line x1="181.80" y1="621.92" x2="190.60" y2="621.92" stroke="#e0472d" stroke-width="1" />
<line x1="200.40" y1="640.31" x2="200.40" y2="607.72" stroke="#e0472d" stroke-width="1" />
<line x1="196.00" y1="640.31" x2="204.80" y2="640.31" stroke="#e0472d" stroke-width="1" />
<line x1="196.00" y1="607.72" x2="204.80" y2="607.72" stroke="#e0472d" stroke-width="1" />
<polyline points="44.20,660.80 58.40,660.80 72.60,660.80 86.80,660.80 101.00,660.80 115.20,658.94 129.40,648.69 143.60,647.76 157.80,639.85 172.00,634.49 186.20,635.89 200.40,624.02" fill="none" stroke="#e0472d" stroke-width="1" stroke-linejoin="round"/>
<circle cx="44.20" cy="660.80" r="4.4" fill="none" stroke="#e0472d" stroke-width="1"/>
<line x1="44.20" y1="660.80" x2="44.20" y2="663.80" stroke="#e0472d" stroke-width="0.8" />
<circle cx="58.40" cy="660.80" r="4.4" fill="none" stroke="#e0472d" stroke-width="1"/>
<line x1="58.40" y1="660.80" x2="58.40" y2="663.80" stroke="#e0472d" stroke-width="0.8" />
<circle cx="72.60" cy="660.80" r="4.4" fill="none" stroke="#e0472d" stroke-width="1"/>
<line x1="72.60" y1="660.80" x2="72.60" y2="663.80" stroke="#e0472d" stroke-width="0.8" />
<circle cx="86.80" cy="660.80" r="4.4" fill="none" stroke="#e0472d" stroke-width="1"/>
<line x1="86.80" y1="660.80" x2="86.80" y2="663.80" stroke="#e0472d" stroke-width="0.8" />
<circle cx="101.00" cy="660.80" r="4.4" fill="none" stroke="#e0472d" stroke-width="1"/>
<line x1="101.00" y1="660.80" x2="101.00" y2="663.80" stroke="#e0472d" stroke-width="0.8" />
<circle cx="115.20" cy="658.94" r="4.4" fill="none" stroke="#e0472d" stroke-width="1"/>
<line x1="115.20" y1="658.94" x2="115.20" y2="661.94" stroke="#e0472d" stroke-width="0.8" />
<circle cx="129.40" cy="648.69" r="4.4" fill="none" stroke="#e0472d" stroke-width="1"/>
<circle cx="143.60" cy="647.76" r="4.4" fill="none" stroke="#e0472d" stroke-width="1"/>
<circle cx="157.80" cy="639.85" r="4.4" fill="none" stroke="#e0472d" stroke-width="1"/>
<circle cx="172.00" cy="634.49" r="4.4" fill="none" stroke="#e0472d" stroke-width="1"/>
<circle cx="186.20" cy="635.89" r="4.4" fill="none" stroke="#e0472d" stroke-width="1"/>
<circle cx="200.40" cy="624.02" r="4.4" fill="none" stroke="#e0472d" stroke-width="1"/>
<line x1="115.20" y1="641.71" x2="115.20" y2="629.60" stroke="#000" stroke-width="1" />
<line x1="110.80" y1="641.71" x2="119.60" y2="641.71" stroke="#000" stroke-width="1" />
<line x1="110.80" y1="629.60" x2="119.60" y2="629.60" stroke="#000" stroke-width="1" />
<line x1="129.40" y1="616.80" x2="129.40" y2="592.12" stroke="#000" stroke-width="1" />
<line x1="125.00" y1="616.80" x2="133.80" y2="616.80" stroke="#000" stroke-width="1" />
<line x1="125.00" y1="592.12" x2="133.80" y2="592.12" stroke="#000" stroke-width="1" />
<line x1="143.60" y1="567.91" x2="143.60" y2="556.27" stroke="#000" stroke-width="1" />
<line x1="139.20" y1="567.91" x2="148.00" y2="567.91" stroke="#000" stroke-width="1" />
<line x1="139.20" y1="556.27" x2="148.00" y2="556.27" stroke="#000" stroke-width="1" />
<line x1="157.80" y1="549.06" x2="157.80" y2="544.40" stroke="#000" stroke-width="1" />
<line x1="153.40" y1="549.06" x2="162.20" y2="549.06" stroke="#000" stroke-width="1" />
<line x1="153.40" y1="544.40" x2="162.20" y2="544.40" stroke="#000" stroke-width="1" />
<polyline points="86.80,660.80 101.00,660.80 115.20,635.66 129.40,604.46 143.60,562.09 157.80,546.73 172.00,544.40 186.20,544.40 200.40,544.40" fill="none" stroke="#000" stroke-width="1" stroke-linejoin="round"/>
<circle cx="101.00" cy="660.80" r="4.4" fill="none" stroke="#000" stroke-width="1"/>
<circle cx="115.20" cy="635.66" r="4.4" fill="none" stroke="#000" stroke-width="1"/>
<circle cx="129.40" cy="604.46" r="4.4" fill="none" stroke="#000" stroke-width="1"/>
<circle cx="143.60" cy="562.09" r="4.4" fill="none" stroke="#000" stroke-width="1"/>
<circle cx="157.80" cy="546.73" r="4.4" fill="none" stroke="#000" stroke-width="1"/>
<circle cx="172.00" cy="544.40" r="4.4" fill="none" stroke="#000" stroke-width="1"/>
<circle cx="186.20" cy="544.40" r="4.4" fill="none" stroke="#000" stroke-width="1"/>
<circle cx="200.40" cy="544.40" r="4.4" fill="none" stroke="#000" stroke-width="1"/>
<circle cx="50.80" cy="576.40" r="3.8" fill="none" stroke="#000" stroke-width="1"/>
<line x1="46.40" y1="576.40" x2="56.00" y2="576.40" stroke="#000" stroke-width="1" />
<text x="61.30" y="579.60" font-size="12.25" text-anchor="start" font-weight="normal" fill="#000" >PBS</text>
<circle cx="50.80" cy="591.30" r="3.8" fill="none" stroke="#e0472d" stroke-width="1"/>
<line x1="46.40" y1="591.30" x2="56.00" y2="591.30" stroke="#e0472d" stroke-width="1" />
<text x="61.30" y="594.60" font-size="12.25" text-anchor="start" font-weight="normal" fill="#000" >Neomycin</text>
<line x1="226.40" y1="543.00" x2="226.40" y2="626.00" stroke="#000" stroke-width="1" />
<polygon points="233.00,578.30 233.76,579.85 235.47,580.10 234.24,581.30 234.53,583.00 233.00,582.20 231.47,583.00 231.76,581.30 230.53,580.10 232.24,579.85" fill="#000"/>
<polygon points="239.10,578.30 239.86,579.85 241.57,580.10 240.34,581.30 240.63,583.00 239.10,582.20 237.57,583.00 237.86,581.30 236.63,580.10 238.34,579.85" fill="#000"/>
<polygon points="245.20,578.30 245.96,579.85 247.67,580.10 246.44,581.30 246.73,583.00 245.20,582.20 243.67,583.00 243.96,581.30 242.73,580.10 244.44,579.85" fill="#000"/>
<text x="270.20" y="543.10" font-size="14.3" text-anchor="start" font-weight="bold" fill="#000" >h</text>
<line x1="317.60" y1="557.60" x2="317.60" y2="661.10" stroke="#000" stroke-width="1" />
<line x1="317.10" y1="661.10" x2="457.20" y2="661.10" stroke="#000" stroke-width="1" />
<line x1="314.20" y1="661.10" x2="317.60" y2="661.10" stroke="#000" stroke-width="1.2" />
<text x="304.30" y="665.10" font-size="11.5" text-anchor="end" font-weight="normal" fill="#000" >10</text>
<text x="304.40" y="659.10" font-size="8.4" text-anchor="start" font-weight="normal" fill="#000" >0</text>
<line x1="315.60" y1="654.87" x2="317.60" y2="654.87" stroke="#222" stroke-width="0.8" />
<line x1="315.60" y1="651.22" x2="317.60" y2="651.22" stroke="#222" stroke-width="0.8" />
<line x1="315.60" y1="648.64" x2="317.60" y2="648.64" stroke="#222" stroke-width="0.8" />
<line x1="315.60" y1="646.63" x2="317.60" y2="646.63" stroke="#222" stroke-width="0.8" />
<line x1="315.60" y1="644.99" x2="317.60" y2="644.99" stroke="#222" stroke-width="0.8" />
<line x1="315.60" y1="643.61" x2="317.60" y2="643.61" stroke="#222" stroke-width="0.8" />
<line x1="315.60" y1="642.41" x2="317.60" y2="642.41" stroke="#222" stroke-width="0.8" />
<line x1="315.60" y1="641.35" x2="317.60" y2="641.35" stroke="#222" stroke-width="0.8" />
<line x1="314.20" y1="640.40" x2="317.60" y2="640.40" stroke="#000" stroke-width="1.2" />
<text x="304.30" y="644.40" font-size="11.5" text-anchor="end" font-weight="normal" fill="#000" >10</text>
<text x="304.40" y="638.40" font-size="8.4" text-anchor="start" font-weight="normal" fill="#000" >1</text>
<line x1="315.60" y1="634.17" x2="317.60" y2="634.17" stroke="#222" stroke-width="0.8" />
<line x1="315.60" y1="630.52" x2="317.60" y2="630.52" stroke="#222" stroke-width="0.8" />
<line x1="315.60" y1="627.94" x2="317.60" y2="627.94" stroke="#222" stroke-width="0.8" />
<line x1="315.60" y1="625.93" x2="317.60" y2="625.93" stroke="#222" stroke-width="0.8" />
<line x1="315.60" y1="624.29" x2="317.60" y2="624.29" stroke="#222" stroke-width="0.8" />
<line x1="315.60" y1="622.91" x2="317.60" y2="622.91" stroke="#222" stroke-width="0.8" />
<line x1="315.60" y1="621.71" x2="317.60" y2="621.71" stroke="#222" stroke-width="0.8" />
<line x1="315.60" y1="620.65" x2="317.60" y2="620.65" stroke="#222" stroke-width="0.8" />
<line x1="314.20" y1="619.70" x2="317.60" y2="619.70" stroke="#000" stroke-width="1.2" />
<text x="304.30" y="623.70" font-size="11.5" text-anchor="end" font-weight="normal" fill="#000" >10</text>
<text x="304.40" y="617.70" font-size="8.4" text-anchor="start" font-weight="normal" fill="#000" >2</text>
<line x1="315.60" y1="613.47" x2="317.60" y2="613.47" stroke="#222" stroke-width="0.8" />
<line x1="315.60" y1="609.82" x2="317.60" y2="609.82" stroke="#222" stroke-width="0.8" />
<line x1="315.60" y1="607.24" x2="317.60" y2="607.24" stroke="#222" stroke-width="0.8" />
<line x1="315.60" y1="605.23" x2="317.60" y2="605.23" stroke="#222" stroke-width="0.8" />
<line x1="315.60" y1="603.59" x2="317.60" y2="603.59" stroke="#222" stroke-width="0.8" />
<line x1="315.60" y1="602.21" x2="317.60" y2="602.21" stroke="#222" stroke-width="0.8" />
<line x1="315.60" y1="601.01" x2="317.60" y2="601.01" stroke="#222" stroke-width="0.8" />
<line x1="315.60" y1="599.95" x2="317.60" y2="599.95" stroke="#222" stroke-width="0.8" />
<line x1="314.20" y1="599.00" x2="317.60" y2="599.00" stroke="#000" stroke-width="1.2" />
<text x="304.30" y="603.00" font-size="11.5" text-anchor="end" font-weight="normal" fill="#000" >10</text>
<text x="304.40" y="597.00" font-size="8.4" text-anchor="start" font-weight="normal" fill="#000" >3</text>
<line x1="315.60" y1="592.77" x2="317.60" y2="592.77" stroke="#222" stroke-width="0.8" />
<line x1="315.60" y1="589.12" x2="317.60" y2="589.12" stroke="#222" stroke-width="0.8" />
<line x1="315.60" y1="586.54" x2="317.60" y2="586.54" stroke="#222" stroke-width="0.8" />
<line x1="315.60" y1="584.53" x2="317.60" y2="584.53" stroke="#222" stroke-width="0.8" />
<line x1="315.60" y1="582.89" x2="317.60" y2="582.89" stroke="#222" stroke-width="0.8" />
<line x1="315.60" y1="581.51" x2="317.60" y2="581.51" stroke="#222" stroke-width="0.8" />
<line x1="315.60" y1="580.31" x2="317.60" y2="580.31" stroke="#222" stroke-width="0.8" />
<line x1="315.60" y1="579.25" x2="317.60" y2="579.25" stroke="#222" stroke-width="0.8" />
<line x1="314.20" y1="578.30" x2="317.60" y2="578.30" stroke="#000" stroke-width="1.2" />
<text x="304.30" y="582.30" font-size="11.5" text-anchor="end" font-weight="normal" fill="#000" >10</text>
<text x="304.40" y="576.30" font-size="8.4" text-anchor="start" font-weight="normal" fill="#000" >4</text>
<line x1="315.60" y1="572.07" x2="317.60" y2="572.07" stroke="#222" stroke-width="0.8" />
<line x1="315.60" y1="568.42" x2="317.60" y2="568.42" stroke="#222" stroke-width="0.8" />
<line x1="315.60" y1="565.84" x2="317.60" y2="565.84" stroke="#222" stroke-width="0.8" />
<line x1="315.60" y1="563.83" x2="317.60" y2="563.83" stroke="#222" stroke-width="0.8" />
<line x1="315.60" y1="562.19" x2="317.60" y2="562.19" stroke="#222" stroke-width="0.8" />
<line x1="315.60" y1="560.81" x2="317.60" y2="560.81" stroke="#222" stroke-width="0.8" />
<line x1="315.60" y1="559.61" x2="317.60" y2="559.61" stroke="#222" stroke-width="0.8" />
<line x1="315.60" y1="558.55" x2="317.60" y2="558.55" stroke="#222" stroke-width="0.8" />
<line x1="314.20" y1="557.60" x2="317.60" y2="557.60" stroke="#000" stroke-width="1.2" />
<text x="304.30" y="561.60" font-size="11.5" text-anchor="end" font-weight="normal" fill="#000" >10</text>
<text x="304.40" y="555.60" font-size="8.4" text-anchor="start" font-weight="normal" fill="#000" >5</text>
<line x1="339.20" y1="661.10" x2="339.20" y2="664.60" stroke="#000" stroke-width="0.8" />
<text x="339.20" y="679.90" font-size="12.25" text-anchor="middle" font-weight="normal" fill="#000" >1</text>
<line x1="387.40" y1="661.10" x2="387.40" y2="664.60" stroke="#000" stroke-width="0.8" />
<text x="387.40" y="679.90" font-size="12.25" text-anchor="middle" font-weight="normal" fill="#000" >2</text>
<line x1="435.80" y1="661.10" x2="435.80" y2="664.60" stroke="#000" stroke-width="0.8" />
<text x="435.80" y="679.90" font-size="12.25" text-anchor="middle" font-weight="normal" fill="#000" >3</text>
<text x="316.30" y="700.00" font-size="12.25" text-anchor="start" font-weight="normal" fill="#000" >Days post HSV-2 infection</text>
<text x="0" y="0" font-size="12.0" text-anchor="middle" transform="translate(281.60,609.85) rotate(-90)">p.f.u. per vagina</text>
<circle cx="329.70" cy="590.70" r="3.7" fill="none" stroke="#000" stroke-width="1"/>
<circle cx="329.70" cy="609.90" r="3.7" fill="none" stroke="#000" stroke-width="1"/>
<circle cx="329.70" cy="614.70" r="3.7" fill="none" stroke="#000" stroke-width="1"/>
<circle cx="329.70" cy="617.40" r="3.7" fill="none" stroke="#000" stroke-width="1"/>
<circle cx="329.70" cy="619.00" r="3.7" fill="none" stroke="#000" stroke-width="1"/>
<circle cx="329.70" cy="624.30" r="3.7" fill="none" stroke="#000" stroke-width="1"/>
<circle cx="329.70" cy="632.40" r="3.7" fill="none" stroke="#000" stroke-width="1"/>
<line x1="323.50" y1="607.20" x2="335.90" y2="607.20" stroke="#000" stroke-width="1" />
<line x1="329.70" y1="602.60" x2="329.70" y2="611.00" stroke="#000" stroke-width="1" />
<line x1="326.50" y1="602.60" x2="332.90" y2="602.60" stroke="#000" stroke-width="1" />
<line x1="326.50" y1="611.00" x2="332.90" y2="611.00" stroke="#000" stroke-width="1" />
<circle cx="347.90" cy="608.00" r="3.7" fill="none" stroke="#e0472d" stroke-width="1"/>
<circle cx="347.90" cy="609.90" r="3.7" fill="none" stroke="#e0472d" stroke-width="1"/>
<circle cx="347.90" cy="612.00" r="3.7" fill="none" stroke="#e0472d" stroke-width="1"/>
<circle cx="347.90" cy="614.20" r="3.7" fill="none" stroke="#e0472d" stroke-width="1"/>
<circle cx="347.90" cy="616.30" r="3.7" fill="none" stroke="#e0472d" stroke-width="1"/>
<circle cx="347.90" cy="642.00" r="3.7" fill="none" stroke="#e0472d" stroke-width="1"/>
<circle cx="347.90" cy="647.80" r="3.7" fill="none" stroke="#e0472d" stroke-width="1"/>
<line x1="341.70" y1="614.40" x2="354.00" y2="614.40" stroke="#e0472d" stroke-width="1" />
<circle cx="378.10" cy="562.10" r="3.7" fill="none" stroke="#000" stroke-width="1"/>
<circle cx="378.10" cy="564.90" r="3.7" fill="none" stroke="#000" stroke-width="1"/>
<circle cx="378.10" cy="567.00" r="3.7" fill="none" stroke="#000" stroke-width="1"/>
<circle cx="378.10" cy="569.90" r="3.7" fill="none" stroke="#000" stroke-width="1"/>
<circle cx="378.10" cy="572.00" r="3.7" fill="none" stroke="#000" stroke-width="1"/>
<circle cx="378.10" cy="574.20" r="3.7" fill="none" stroke="#000" stroke-width="1"/>
<circle cx="378.10" cy="579.20" r="3.7" fill="none" stroke="#000" stroke-width="1"/>
<circle cx="378.10" cy="597.00" r="3.7" fill="none" stroke="#000" stroke-width="1"/>
<circle cx="378.10" cy="628.30" r="3.7" fill="none" stroke="#000" stroke-width="1"/>
<line x1="372.10" y1="569.90" x2="384.20" y2="569.90" stroke="#000" stroke-width="1" />
<circle cx="396.10" cy="561.80" r="3.7" fill="none" stroke="#e0472d" stroke-width="1"/>
<circle cx="396.10" cy="584.10" r="3.7" fill="none" stroke="#e0472d" stroke-width="1"/>
<circle cx="396.10" cy="593.40" r="3.7" fill="none" stroke="#e0472d" stroke-width="1"/>
<circle cx="396.10" cy="596.00" r="3.7" fill="none" stroke="#e0472d" stroke-width="1"/>
<circle cx="396.10" cy="598.40" r="3.7" fill="none" stroke="#e0472d" stroke-width="1"/>
<circle cx="396.10" cy="600.80" r="3.7" fill="none" stroke="#e0472d" stroke-width="1"/>
<circle cx="396.10" cy="607.40" r="3.7" fill="none" stroke="#e0472d" stroke-width="1"/>
<circle cx="396.10" cy="616.50" r="3.7" fill="none" stroke="#e0472d" stroke-width="1"/>
<line x1="389.70" y1="580.30" x2="402.50" y2="580.30" stroke="#e0472d" stroke-width="1" />
<line x1="396.10" y1="575.60" x2="396.10" y2="592.00" stroke="#e0472d" stroke-width="1" />
<line x1="392.90" y1="575.60" x2="399.30" y2="575.60" stroke="#e0472d" stroke-width="1" />
<line x1="392.90" y1="592.00" x2="399.30" y2="592.00" stroke="#e0472d" stroke-width="1" />
<line x1="380.40" y1="550.00" x2="394.90" y2="550.00" stroke="#000" stroke-width="1.1" />
<polygon points="387.10,541.50 387.86,543.05 389.57,543.30 388.34,544.50 388.63,546.20 387.10,545.40 385.57,546.20 385.86,544.50 384.63,543.30 386.34,543.05" fill="#000"/>
<circle cx="426.80" cy="559.00" r="3.7" fill="none" stroke="#000" stroke-width="1"/>
<circle cx="426.80" cy="563.30" r="3.7" fill="none" stroke="#000" stroke-width="1"/>
<circle cx="426.80" cy="566.00" r="3.7" fill="none" stroke="#000" stroke-width="1"/>
<circle cx="426.80" cy="568.10" r="3.7" fill="none" stroke="#000" stroke-width="1"/>
<circle cx="426.80" cy="570.30" r="3.7" fill="none" stroke="#000" stroke-width="1"/>
<circle cx="426.80" cy="572.40" r="3.7" fill="none" stroke="#000" stroke-width="1"/>
<circle cx="426.80" cy="575.10" r="3.7" fill="none" stroke="#000" stroke-width="1"/>
<circle cx="426.80" cy="577.20" r="3.7" fill="none" stroke="#000" stroke-width="1"/>
<line x1="420.90" y1="568.30" x2="432.60" y2="568.30" stroke="#000" stroke-width="1" />
<circle cx="445.10" cy="570.30" r="3.7" fill="none" stroke="#e0472d" stroke-width="1"/>
<circle cx="445.10" cy="574.50" r="3.7" fill="none" stroke="#e0472d" stroke-width="1"/>
<circle cx="445.10" cy="576.10" r="3.7" fill="none" stroke="#e0472d" stroke-width="1"/>
<circle cx="445.10" cy="577.70" r="3.7" fill="none" stroke="#e0472d" stroke-width="1"/>
<circle cx="445.10" cy="579.30" r="3.7" fill="none" stroke="#e0472d" stroke-width="1"/>
<circle cx="445.10" cy="580.90" r="3.7" fill="none" stroke="#e0472d" stroke-width="1"/>
<circle cx="445.10" cy="583.10" r="3.7" fill="none" stroke="#e0472d" stroke-width="1"/>
<circle cx="445.10" cy="587.40" r="3.7" fill="none" stroke="#e0472d" stroke-width="1"/>
<circle cx="445.10" cy="590.60" r="3.7" fill="none" stroke="#e0472d" stroke-width="1"/>
<circle cx="445.10" cy="593.80" r="3.7" fill="none" stroke="#e0472d" stroke-width="1"/>
<line x1="439.00" y1="579.10" x2="450.80" y2="579.10" stroke="#e0472d" stroke-width="1" />
<line x1="426.20" y1="549.10" x2="440.60" y2="549.10" stroke="#000" stroke-width="1.1" />
<polygon points="427.40,541.10 428.16,542.65 429.87,542.90 428.64,544.10 428.93,545.80 427.40,545.00 425.87,545.80 426.16,544.10 424.93,542.90 426.64,542.65" fill="#000"/>
<polygon points="433.45,541.10 434.21,542.65 435.92,542.90 434.69,544.10 434.98,545.80 433.45,545.00 431.92,545.80 432.21,544.10 430.98,542.90 432.69,542.65" fill="#000"/>
<polygon points="439.50,541.10 440.26,542.65 441.97,542.90 440.74,544.10 441.03,545.80 439.50,545.00 437.97,545.80 438.26,544.10 437.03,542.90 438.74,542.65" fill="#000"/>
<text x="542.60" y="574.60" font-size="12.0" text-anchor="start" font-weight="normal" fill="#000" >Post-exposure treatment</text>
<text x="526.60" y="593.60" font-size="12.0" text-anchor="start" font-weight="normal" fill="#000" >Depo</text>
<text x="564.00" y="593.60" font-size="12.0" text-anchor="start" font-weight="normal" fill="#000" >HSV-2 infection</text>
<rect x="535.8" y="606.8" width="144.6" height="19.2" fill="none" stroke="#000" stroke-width="1.9"/>
<line x1="540.60" y1="597.00" x2="540.60" y2="618.10" stroke="#000" stroke-width="1.5" />
<polygon points="536.90,617.60 544.30,617.60 540.60,626.00" fill="#000"/>
<line x1="575.20" y1="597.00" x2="575.20" y2="618.10" stroke="#000" stroke-width="1.5" />
<polygon points="571.50,617.60 578.90,617.60 575.20,626.00" fill="#000"/>
<line x1="579.00" y1="629.60" x2="579.00" y2="612.20" stroke="#e2381f" stroke-width="1.8" />
<polygon points="575.20,612.70 582.80,612.70 579.00,604.30" fill="#e2381f"/>
<line x1="586.33" y1="629.60" x2="586.33" y2="612.20" stroke="#e2381f" stroke-width="1.8" />
<polygon points="582.53,612.70 590.13,612.70 586.33,604.30" fill="#e2381f"/>
<line x1="593.66" y1="629.60" x2="593.66" y2="612.20" stroke="#e2381f" stroke-width="1.8" />
<polygon points="589.86,612.70 597.46,612.70 593.66,604.30" fill="#e2381f"/>
<line x1="600.99" y1="629.60" x2="600.99" y2="612.20" stroke="#e2381f" stroke-width="1.8" />
<polygon points="597.19,612.70 604.79,612.70 600.99,604.30" fill="#e2381f"/>
<text x="554.80" y="644.30" font-size="12.0" text-anchor="start" font-weight="normal" fill="#000" >1 mg neomycin</text>
<text x="541.00" y="658.50" font-size="12.0" text-anchor="start" font-weight="normal" fill="#000" >4 h.p.i, then daily 3×</text>
</svg>
</body></html>
